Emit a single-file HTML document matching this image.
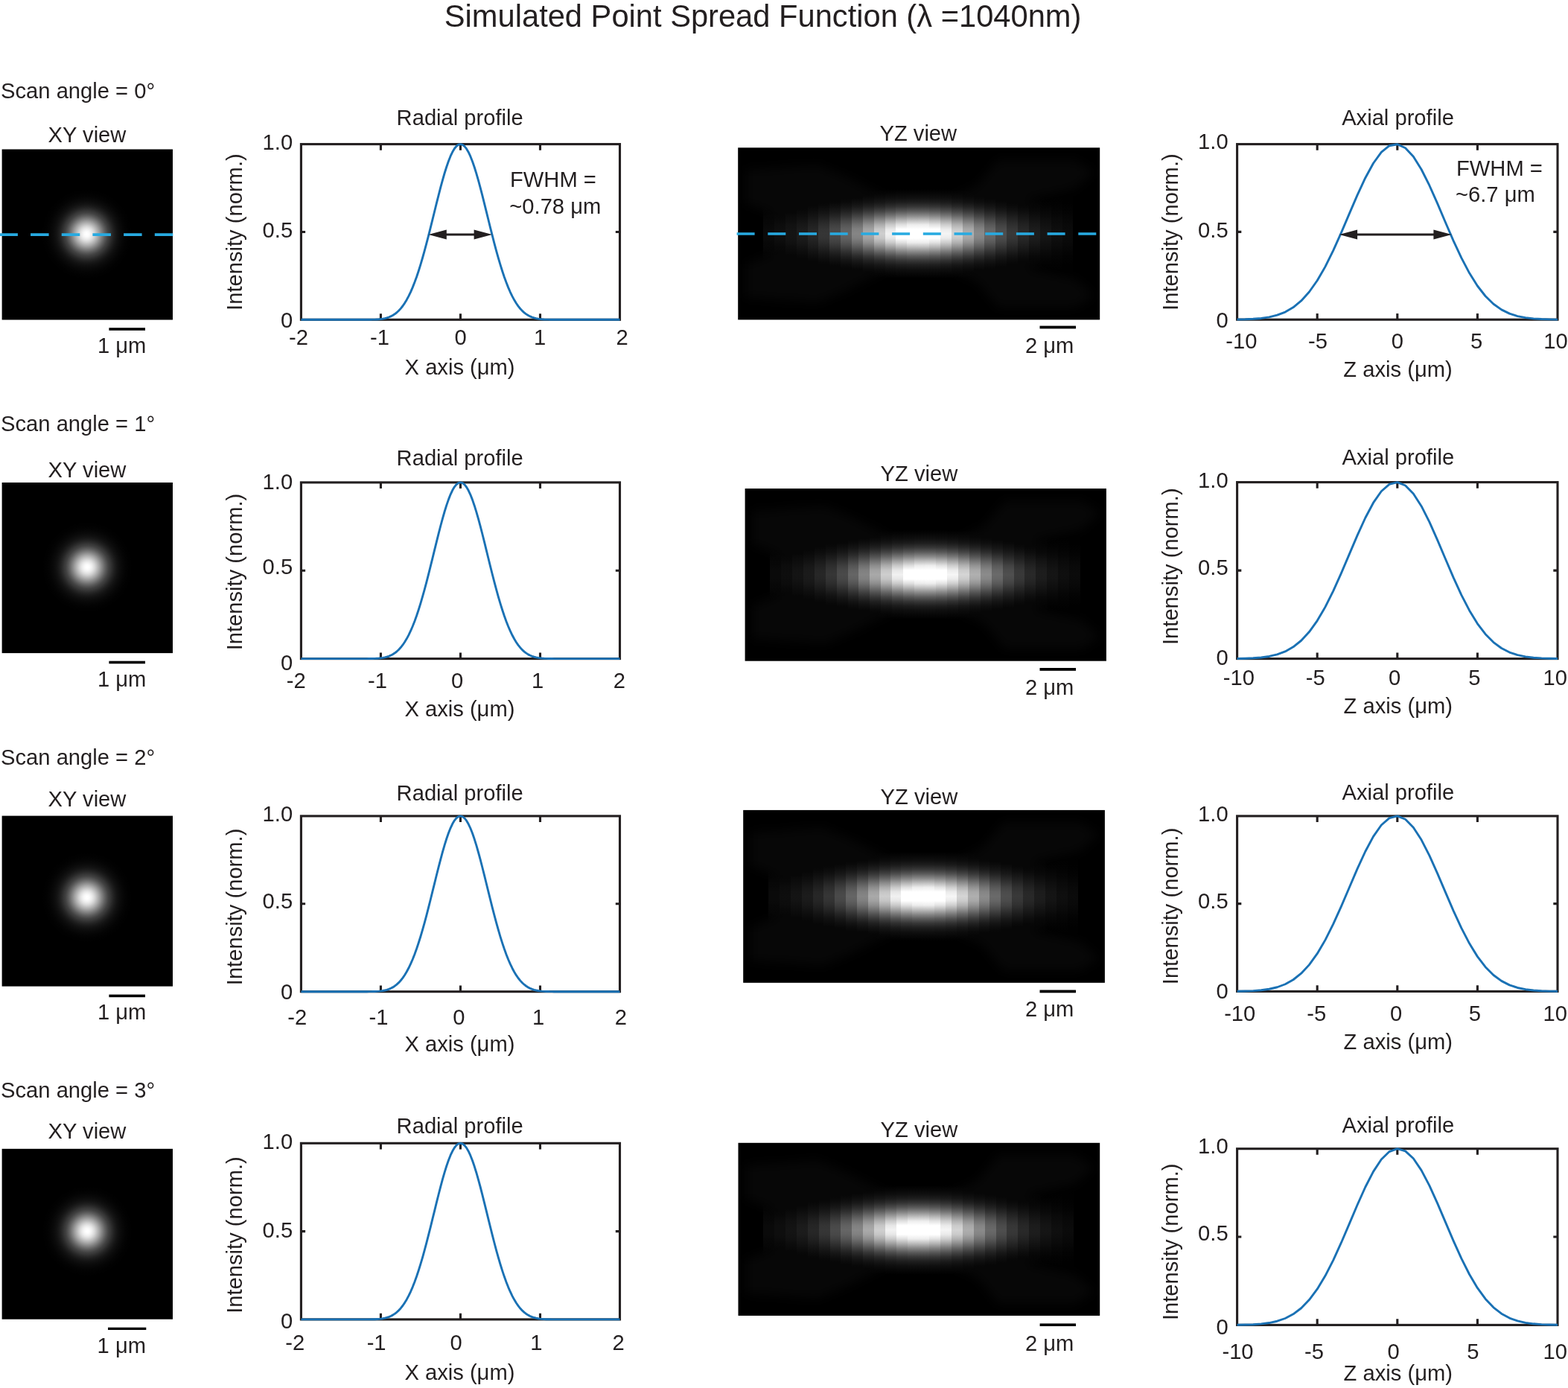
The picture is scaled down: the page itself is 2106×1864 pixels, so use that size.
<!DOCTYPE html>
<html lang="en"><head><meta charset="utf-8"><title>Simulated Point Spread Function</title>
<style>
html,body{margin:0;padding:0;background:#fff;overflow:hidden}
svg{display:block}
text{font-family:"Liberation Sans",Arial,Helvetica,sans-serif;fill:#231f20;white-space:pre}
</style></head>
<body>
<svg width="2106" height="1864" viewBox="0 0 2106 1864">
<defs>
<filter id="hb" x="-10%" y="-10%" width="120%" height="120%" color-interpolation-filters="sRGB"><feGaussianBlur stdDeviation="7"/></filter>
<radialGradient id="xy0" gradientUnits="userSpaceOnUse" cx="116.4" cy="314.4" r="60"><stop offset="0" stop-color="rgb(255,255,255)"/><stop offset="0.03" stop-color="rgb(254,254,254)"/><stop offset="0.06" stop-color="rgb(250,250,250)"/><stop offset="0.09" stop-color="rgb(243,243,243)"/><stop offset="0.12" stop-color="rgb(234,234,234)"/><stop offset="0.15" stop-color="rgb(223,223,223)"/><stop offset="0.18" stop-color="rgb(210,210,210)"/><stop offset="0.21" stop-color="rgb(195,195,195)"/><stop offset="0.24" stop-color="rgb(180,180,180)"/><stop offset="0.27" stop-color="rgb(165,165,165)"/><stop offset="0.3" stop-color="rgb(149,149,149)"/><stop offset="0.33" stop-color="rgb(133,133,133)"/><stop offset="0.36" stop-color="rgb(118,118,118)"/><stop offset="0.39" stop-color="rgb(103,103,103)"/><stop offset="0.42" stop-color="rgb(89,89,89)"/><stop offset="0.45" stop-color="rgb(77,77,77)"/><stop offset="0.48" stop-color="rgb(65,65,65)"/><stop offset="0.52" stop-color="rgb(55,55,55)"/><stop offset="0.55" stop-color="rgb(46,46,46)"/><stop offset="0.58" stop-color="rgb(38,38,38)"/><stop offset="0.61" stop-color="rgb(31,31,31)"/><stop offset="0.64" stop-color="rgb(25,25,25)"/><stop offset="0.67" stop-color="rgb(20,20,20)"/><stop offset="0.7" stop-color="rgb(16,16,16)"/><stop offset="0.73" stop-color="rgb(13,13,13)"/><stop offset="0.76" stop-color="rgb(10,10,10)"/><stop offset="0.79" stop-color="rgb(8,8,8)"/><stop offset="0.82" stop-color="rgb(6,6,6)"/><stop offset="0.85" stop-color="rgb(4,4,4)"/><stop offset="0.88" stop-color="rgb(3,3,3)"/><stop offset="0.91" stop-color="rgb(2,2,2)"/><stop offset="0.94" stop-color="rgb(1,1,1)"/><stop offset="0.97" stop-color="rgb(1,1,1)"/><stop offset="1" stop-color="rgb(0,0,0)"/></radialGradient>
<linearGradient id="z0_3" gradientUnits="userSpaceOnUse" x1="0" y1="253.8" x2="0" y2="373.8"><stop offset="0" stop-color="#000000"/><stop offset="0.05" stop-color="#000000"/><stop offset="0.1" stop-color="#010101"/><stop offset="0.15" stop-color="#010101"/><stop offset="0.2" stop-color="#020202"/><stop offset="0.25" stop-color="#030303"/><stop offset="0.3" stop-color="#050505"/><stop offset="0.35" stop-color="#070707"/><stop offset="0.4" stop-color="#080808"/><stop offset="0.45" stop-color="#0a0a0a"/><stop offset="0.5" stop-color="#0a0a0a"/><stop offset="0.55" stop-color="#0a0a0a"/><stop offset="0.6" stop-color="#080808"/><stop offset="0.65" stop-color="#070707"/><stop offset="0.7" stop-color="#050505"/><stop offset="0.75" stop-color="#030303"/><stop offset="0.8" stop-color="#020202"/><stop offset="0.85" stop-color="#010101"/><stop offset="0.9" stop-color="#010101"/><stop offset="0.95" stop-color="#000000"/><stop offset="1" stop-color="#000000"/></linearGradient>
<linearGradient id="z0_4" gradientUnits="userSpaceOnUse" x1="0" y1="253.8" x2="0" y2="373.8"><stop offset="0" stop-color="#000000"/><stop offset="0.05" stop-color="#000000"/><stop offset="0.1" stop-color="#010101"/><stop offset="0.15" stop-color="#020202"/><stop offset="0.2" stop-color="#030303"/><stop offset="0.25" stop-color="#050505"/><stop offset="0.3" stop-color="#070707"/><stop offset="0.35" stop-color="#090909"/><stop offset="0.4" stop-color="#0c0c0c"/><stop offset="0.45" stop-color="#0e0e0e"/><stop offset="0.5" stop-color="#0e0e0e"/><stop offset="0.55" stop-color="#0e0e0e"/><stop offset="0.6" stop-color="#0c0c0c"/><stop offset="0.65" stop-color="#090909"/><stop offset="0.7" stop-color="#070707"/><stop offset="0.75" stop-color="#050505"/><stop offset="0.8" stop-color="#030303"/><stop offset="0.85" stop-color="#020202"/><stop offset="0.9" stop-color="#010101"/><stop offset="0.95" stop-color="#000000"/><stop offset="1" stop-color="#000000"/></linearGradient>
<linearGradient id="z0_5" gradientUnits="userSpaceOnUse" x1="0" y1="253.8" x2="0" y2="373.8"><stop offset="0" stop-color="#000000"/><stop offset="0.05" stop-color="#010101"/><stop offset="0.1" stop-color="#010101"/><stop offset="0.15" stop-color="#020202"/><stop offset="0.2" stop-color="#040404"/><stop offset="0.25" stop-color="#060606"/><stop offset="0.3" stop-color="#0a0a0a"/><stop offset="0.35" stop-color="#0d0d0d"/><stop offset="0.4" stop-color="#111111"/><stop offset="0.45" stop-color="#131313"/><stop offset="0.5" stop-color="#141414"/><stop offset="0.55" stop-color="#131313"/><stop offset="0.6" stop-color="#111111"/><stop offset="0.65" stop-color="#0d0d0d"/><stop offset="0.7" stop-color="#0a0a0a"/><stop offset="0.75" stop-color="#060606"/><stop offset="0.8" stop-color="#040404"/><stop offset="0.85" stop-color="#020202"/><stop offset="0.9" stop-color="#010101"/><stop offset="0.95" stop-color="#010101"/><stop offset="1" stop-color="#000000"/></linearGradient>
<linearGradient id="z0_6" gradientUnits="userSpaceOnUse" x1="0" y1="253.8" x2="0" y2="373.8"><stop offset="0" stop-color="#000000"/><stop offset="0.05" stop-color="#010101"/><stop offset="0.1" stop-color="#020202"/><stop offset="0.15" stop-color="#030303"/><stop offset="0.2" stop-color="#050505"/><stop offset="0.25" stop-color="#090909"/><stop offset="0.3" stop-color="#0d0d0d"/><stop offset="0.35" stop-color="#121212"/><stop offset="0.4" stop-color="#171717"/><stop offset="0.45" stop-color="#1b1b1b"/><stop offset="0.5" stop-color="#1c1c1c"/><stop offset="0.55" stop-color="#1b1b1b"/><stop offset="0.6" stop-color="#171717"/><stop offset="0.65" stop-color="#121212"/><stop offset="0.7" stop-color="#0d0d0d"/><stop offset="0.75" stop-color="#090909"/><stop offset="0.8" stop-color="#050505"/><stop offset="0.85" stop-color="#030303"/><stop offset="0.9" stop-color="#020202"/><stop offset="0.95" stop-color="#010101"/><stop offset="1" stop-color="#000000"/></linearGradient>
<linearGradient id="z0_7" gradientUnits="userSpaceOnUse" x1="0" y1="253.8" x2="0" y2="373.8"><stop offset="0" stop-color="#000000"/><stop offset="0.05" stop-color="#010101"/><stop offset="0.1" stop-color="#020202"/><stop offset="0.15" stop-color="#040404"/><stop offset="0.2" stop-color="#080808"/><stop offset="0.25" stop-color="#0d0d0d"/><stop offset="0.3" stop-color="#131313"/><stop offset="0.35" stop-color="#1a1a1a"/><stop offset="0.4" stop-color="#202020"/><stop offset="0.45" stop-color="#252525"/><stop offset="0.5" stop-color="#272727"/><stop offset="0.55" stop-color="#252525"/><stop offset="0.6" stop-color="#202020"/><stop offset="0.65" stop-color="#1a1a1a"/><stop offset="0.7" stop-color="#131313"/><stop offset="0.75" stop-color="#0d0d0d"/><stop offset="0.8" stop-color="#080808"/><stop offset="0.85" stop-color="#040404"/><stop offset="0.9" stop-color="#020202"/><stop offset="0.95" stop-color="#010101"/><stop offset="1" stop-color="#000000"/></linearGradient>
<linearGradient id="z0_8" gradientUnits="userSpaceOnUse" x1="0" y1="253.8" x2="0" y2="373.8"><stop offset="0" stop-color="#000000"/><stop offset="0.05" stop-color="#010101"/><stop offset="0.1" stop-color="#030303"/><stop offset="0.15" stop-color="#060606"/><stop offset="0.2" stop-color="#0b0b0b"/><stop offset="0.25" stop-color="#121212"/><stop offset="0.3" stop-color="#1a1a1a"/><stop offset="0.35" stop-color="#242424"/><stop offset="0.4" stop-color="#2d2d2d"/><stop offset="0.45" stop-color="#343434"/><stop offset="0.5" stop-color="#363636"/><stop offset="0.55" stop-color="#343434"/><stop offset="0.6" stop-color="#2d2d2d"/><stop offset="0.65" stop-color="#242424"/><stop offset="0.7" stop-color="#1a1a1a"/><stop offset="0.75" stop-color="#121212"/><stop offset="0.8" stop-color="#0b0b0b"/><stop offset="0.85" stop-color="#060606"/><stop offset="0.9" stop-color="#030303"/><stop offset="0.95" stop-color="#010101"/><stop offset="1" stop-color="#000000"/></linearGradient>
<linearGradient id="z0_9" gradientUnits="userSpaceOnUse" x1="0" y1="253.8" x2="0" y2="373.8"><stop offset="0" stop-color="#000000"/><stop offset="0.05" stop-color="#020202"/><stop offset="0.1" stop-color="#040404"/><stop offset="0.15" stop-color="#080808"/><stop offset="0.2" stop-color="#0f0f0f"/><stop offset="0.25" stop-color="#181818"/><stop offset="0.3" stop-color="#242424"/><stop offset="0.35" stop-color="#323232"/><stop offset="0.4" stop-color="#3f3f3f"/><stop offset="0.45" stop-color="#484848"/><stop offset="0.5" stop-color="#4b4b4b"/><stop offset="0.55" stop-color="#484848"/><stop offset="0.6" stop-color="#3f3f3f"/><stop offset="0.65" stop-color="#323232"/><stop offset="0.7" stop-color="#242424"/><stop offset="0.75" stop-color="#181818"/><stop offset="0.8" stop-color="#0f0f0f"/><stop offset="0.85" stop-color="#080808"/><stop offset="0.9" stop-color="#040404"/><stop offset="0.95" stop-color="#020202"/><stop offset="1" stop-color="#000000"/></linearGradient>
<linearGradient id="z0_10" gradientUnits="userSpaceOnUse" x1="0" y1="253.8" x2="0" y2="373.8"><stop offset="0" stop-color="#000000"/><stop offset="0.05" stop-color="#030303"/><stop offset="0.1" stop-color="#060606"/><stop offset="0.15" stop-color="#0b0b0b"/><stop offset="0.2" stop-color="#141414"/><stop offset="0.25" stop-color="#212121"/><stop offset="0.3" stop-color="#313131"/><stop offset="0.35" stop-color="#444444"/><stop offset="0.4" stop-color="#555555"/><stop offset="0.45" stop-color="#616161"/><stop offset="0.5" stop-color="#656565"/><stop offset="0.55" stop-color="#616161"/><stop offset="0.6" stop-color="#555555"/><stop offset="0.65" stop-color="#444444"/><stop offset="0.7" stop-color="#313131"/><stop offset="0.75" stop-color="#212121"/><stop offset="0.8" stop-color="#141414"/><stop offset="0.85" stop-color="#0b0b0b"/><stop offset="0.9" stop-color="#060606"/><stop offset="0.95" stop-color="#030303"/><stop offset="1" stop-color="#000000"/></linearGradient>
<linearGradient id="z0_11" gradientUnits="userSpaceOnUse" x1="0" y1="253.8" x2="0" y2="373.8"><stop offset="0" stop-color="#000000"/><stop offset="0.05" stop-color="#030303"/><stop offset="0.1" stop-color="#070707"/><stop offset="0.15" stop-color="#0f0f0f"/><stop offset="0.2" stop-color="#1a1a1a"/><stop offset="0.25" stop-color="#2b2b2b"/><stop offset="0.3" stop-color="#414141"/><stop offset="0.35" stop-color="#595959"/><stop offset="0.4" stop-color="#6f6f6f"/><stop offset="0.45" stop-color="#808080"/><stop offset="0.5" stop-color="#858585"/><stop offset="0.55" stop-color="#808080"/><stop offset="0.6" stop-color="#6f6f6f"/><stop offset="0.65" stop-color="#595959"/><stop offset="0.7" stop-color="#414141"/><stop offset="0.75" stop-color="#2b2b2b"/><stop offset="0.8" stop-color="#1a1a1a"/><stop offset="0.85" stop-color="#0f0f0f"/><stop offset="0.9" stop-color="#070707"/><stop offset="0.95" stop-color="#030303"/><stop offset="1" stop-color="#000000"/></linearGradient>
<linearGradient id="z0_12" gradientUnits="userSpaceOnUse" x1="0" y1="253.8" x2="0" y2="373.8"><stop offset="0" stop-color="#000000"/><stop offset="0.05" stop-color="#040404"/><stop offset="0.1" stop-color="#0a0a0a"/><stop offset="0.15" stop-color="#131313"/><stop offset="0.2" stop-color="#222222"/><stop offset="0.25" stop-color="#373737"/><stop offset="0.3" stop-color="#535353"/><stop offset="0.35" stop-color="#717171"/><stop offset="0.4" stop-color="#8e8e8e"/><stop offset="0.45" stop-color="#a2a2a2"/><stop offset="0.5" stop-color="#aaaaaa"/><stop offset="0.55" stop-color="#a2a2a2"/><stop offset="0.6" stop-color="#8e8e8e"/><stop offset="0.65" stop-color="#717171"/><stop offset="0.7" stop-color="#535353"/><stop offset="0.75" stop-color="#373737"/><stop offset="0.8" stop-color="#222222"/><stop offset="0.85" stop-color="#131313"/><stop offset="0.9" stop-color="#0a0a0a"/><stop offset="0.95" stop-color="#040404"/><stop offset="1" stop-color="#000000"/></linearGradient>
<linearGradient id="z0_13" gradientUnits="userSpaceOnUse" x1="0" y1="253.8" x2="0" y2="373.8"><stop offset="0" stop-color="#000000"/><stop offset="0.05" stop-color="#050505"/><stop offset="0.1" stop-color="#0c0c0c"/><stop offset="0.15" stop-color="#171717"/><stop offset="0.2" stop-color="#292929"/><stop offset="0.25" stop-color="#434343"/><stop offset="0.3" stop-color="#656565"/><stop offset="0.35" stop-color="#8a8a8a"/><stop offset="0.4" stop-color="#adadad"/><stop offset="0.45" stop-color="#c6c6c6"/><stop offset="0.5" stop-color="#cfcfcf"/><stop offset="0.55" stop-color="#c6c6c6"/><stop offset="0.6" stop-color="#adadad"/><stop offset="0.65" stop-color="#8a8a8a"/><stop offset="0.7" stop-color="#656565"/><stop offset="0.75" stop-color="#434343"/><stop offset="0.8" stop-color="#292929"/><stop offset="0.85" stop-color="#171717"/><stop offset="0.9" stop-color="#0c0c0c"/><stop offset="0.95" stop-color="#050505"/><stop offset="1" stop-color="#000000"/></linearGradient>
<linearGradient id="z0_14" gradientUnits="userSpaceOnUse" x1="0" y1="253.8" x2="0" y2="373.8"><stop offset="0" stop-color="#000000"/><stop offset="0.05" stop-color="#060606"/><stop offset="0.1" stop-color="#0e0e0e"/><stop offset="0.15" stop-color="#1b1b1b"/><stop offset="0.2" stop-color="#303030"/><stop offset="0.25" stop-color="#4e4e4e"/><stop offset="0.3" stop-color="#757575"/><stop offset="0.35" stop-color="#a1a1a1"/><stop offset="0.4" stop-color="#cacaca"/><stop offset="0.45" stop-color="#e7e7e7"/><stop offset="0.5" stop-color="#f1f1f1"/><stop offset="0.55" stop-color="#e7e7e7"/><stop offset="0.6" stop-color="#cacaca"/><stop offset="0.65" stop-color="#a1a1a1"/><stop offset="0.7" stop-color="#757575"/><stop offset="0.75" stop-color="#4e4e4e"/><stop offset="0.8" stop-color="#303030"/><stop offset="0.85" stop-color="#1b1b1b"/><stop offset="0.9" stop-color="#0e0e0e"/><stop offset="0.95" stop-color="#060606"/><stop offset="1" stop-color="#000000"/></linearGradient>
<linearGradient id="z0_15" gradientUnits="userSpaceOnUse" x1="0" y1="253.8" x2="0" y2="373.8"><stop offset="0" stop-color="#000000"/><stop offset="0.05" stop-color="#070707"/><stop offset="0.1" stop-color="#0f0f0f"/><stop offset="0.15" stop-color="#1e1e1e"/><stop offset="0.2" stop-color="#353535"/><stop offset="0.25" stop-color="#575757"/><stop offset="0.3" stop-color="#838383"/><stop offset="0.35" stop-color="#b3b3b3"/><stop offset="0.4" stop-color="#e0e0e0"/><stop offset="0.45" stop-color="#ffffff"/><stop offset="0.5" stop-color="#ffffff"/><stop offset="0.55" stop-color="#ffffff"/><stop offset="0.6" stop-color="#e0e0e0"/><stop offset="0.65" stop-color="#b3b3b3"/><stop offset="0.7" stop-color="#838383"/><stop offset="0.75" stop-color="#575757"/><stop offset="0.8" stop-color="#353535"/><stop offset="0.85" stop-color="#1e1e1e"/><stop offset="0.9" stop-color="#0f0f0f"/><stop offset="0.95" stop-color="#070707"/><stop offset="1" stop-color="#000000"/></linearGradient>
<linearGradient id="z0_16" gradientUnits="userSpaceOnUse" x1="0" y1="253.8" x2="0" y2="373.8"><stop offset="0" stop-color="#000000"/><stop offset="0.05" stop-color="#070707"/><stop offset="0.1" stop-color="#101010"/><stop offset="0.15" stop-color="#1f1f1f"/><stop offset="0.2" stop-color="#383838"/><stop offset="0.25" stop-color="#5c5c5c"/><stop offset="0.3" stop-color="#8a8a8a"/><stop offset="0.35" stop-color="#bdbdbd"/><stop offset="0.4" stop-color="#ededed"/><stop offset="0.45" stop-color="#ffffff"/><stop offset="0.5" stop-color="#ffffff"/><stop offset="0.55" stop-color="#ffffff"/><stop offset="0.6" stop-color="#ededed"/><stop offset="0.65" stop-color="#bdbdbd"/><stop offset="0.7" stop-color="#8a8a8a"/><stop offset="0.75" stop-color="#5c5c5c"/><stop offset="0.8" stop-color="#383838"/><stop offset="0.85" stop-color="#1f1f1f"/><stop offset="0.9" stop-color="#101010"/><stop offset="0.95" stop-color="#070707"/><stop offset="1" stop-color="#000000"/></linearGradient>
<linearGradient id="z0_17" gradientUnits="userSpaceOnUse" x1="0" y1="253.8" x2="0" y2="373.8"><stop offset="0" stop-color="#000000"/><stop offset="0.05" stop-color="#070707"/><stop offset="0.1" stop-color="#101010"/><stop offset="0.15" stop-color="#1f1f1f"/><stop offset="0.2" stop-color="#383838"/><stop offset="0.25" stop-color="#5c5c5c"/><stop offset="0.3" stop-color="#8a8a8a"/><stop offset="0.35" stop-color="#bebebe"/><stop offset="0.4" stop-color="#ededed"/><stop offset="0.45" stop-color="#ffffff"/><stop offset="0.5" stop-color="#ffffff"/><stop offset="0.55" stop-color="#ffffff"/><stop offset="0.6" stop-color="#ededed"/><stop offset="0.65" stop-color="#bebebe"/><stop offset="0.7" stop-color="#8a8a8a"/><stop offset="0.75" stop-color="#5c5c5c"/><stop offset="0.8" stop-color="#383838"/><stop offset="0.85" stop-color="#1f1f1f"/><stop offset="0.9" stop-color="#101010"/><stop offset="0.95" stop-color="#070707"/><stop offset="1" stop-color="#000000"/></linearGradient>
<linearGradient id="z0_18" gradientUnits="userSpaceOnUse" x1="0" y1="253.8" x2="0" y2="373.8"><stop offset="0" stop-color="#000000"/><stop offset="0.05" stop-color="#070707"/><stop offset="0.1" stop-color="#0f0f0f"/><stop offset="0.15" stop-color="#1e1e1e"/><stop offset="0.2" stop-color="#363636"/><stop offset="0.25" stop-color="#585858"/><stop offset="0.3" stop-color="#848484"/><stop offset="0.35" stop-color="#b5b5b5"/><stop offset="0.4" stop-color="#e2e2e2"/><stop offset="0.45" stop-color="#ffffff"/><stop offset="0.5" stop-color="#ffffff"/><stop offset="0.55" stop-color="#ffffff"/><stop offset="0.6" stop-color="#e2e2e2"/><stop offset="0.65" stop-color="#b5b5b5"/><stop offset="0.7" stop-color="#848484"/><stop offset="0.75" stop-color="#585858"/><stop offset="0.8" stop-color="#363636"/><stop offset="0.85" stop-color="#1e1e1e"/><stop offset="0.9" stop-color="#0f0f0f"/><stop offset="0.95" stop-color="#070707"/><stop offset="1" stop-color="#000000"/></linearGradient>
<linearGradient id="z0_19" gradientUnits="userSpaceOnUse" x1="0" y1="253.8" x2="0" y2="373.8"><stop offset="0" stop-color="#000000"/><stop offset="0.05" stop-color="#060606"/><stop offset="0.1" stop-color="#0e0e0e"/><stop offset="0.15" stop-color="#1b1b1b"/><stop offset="0.2" stop-color="#313131"/><stop offset="0.25" stop-color="#505050"/><stop offset="0.3" stop-color="#777777"/><stop offset="0.35" stop-color="#a4a4a4"/><stop offset="0.4" stop-color="#cdcdcd"/><stop offset="0.45" stop-color="#ebebeb"/><stop offset="0.5" stop-color="#f5f5f5"/><stop offset="0.55" stop-color="#ebebeb"/><stop offset="0.6" stop-color="#cdcdcd"/><stop offset="0.65" stop-color="#a4a4a4"/><stop offset="0.7" stop-color="#777777"/><stop offset="0.75" stop-color="#505050"/><stop offset="0.8" stop-color="#313131"/><stop offset="0.85" stop-color="#1b1b1b"/><stop offset="0.9" stop-color="#0e0e0e"/><stop offset="0.95" stop-color="#060606"/><stop offset="1" stop-color="#000000"/></linearGradient>
<linearGradient id="z0_20" gradientUnits="userSpaceOnUse" x1="0" y1="253.8" x2="0" y2="373.8"><stop offset="0" stop-color="#000000"/><stop offset="0.05" stop-color="#060606"/><stop offset="0.1" stop-color="#0c0c0c"/><stop offset="0.15" stop-color="#171717"/><stop offset="0.2" stop-color="#2a2a2a"/><stop offset="0.25" stop-color="#454545"/><stop offset="0.3" stop-color="#676767"/><stop offset="0.35" stop-color="#8d8d8d"/><stop offset="0.4" stop-color="#b1b1b1"/><stop offset="0.45" stop-color="#cacaca"/><stop offset="0.5" stop-color="#d4d4d4"/><stop offset="0.55" stop-color="#cacaca"/><stop offset="0.6" stop-color="#b1b1b1"/><stop offset="0.65" stop-color="#8d8d8d"/><stop offset="0.7" stop-color="#676767"/><stop offset="0.75" stop-color="#454545"/><stop offset="0.8" stop-color="#2a2a2a"/><stop offset="0.85" stop-color="#171717"/><stop offset="0.9" stop-color="#0c0c0c"/><stop offset="0.95" stop-color="#060606"/><stop offset="1" stop-color="#000000"/></linearGradient>
<linearGradient id="z0_21" gradientUnits="userSpaceOnUse" x1="0" y1="253.8" x2="0" y2="373.8"><stop offset="0" stop-color="#000000"/><stop offset="0.05" stop-color="#050505"/><stop offset="0.1" stop-color="#0a0a0a"/><stop offset="0.15" stop-color="#131313"/><stop offset="0.2" stop-color="#232323"/><stop offset="0.25" stop-color="#393939"/><stop offset="0.3" stop-color="#555555"/><stop offset="0.35" stop-color="#747474"/><stop offset="0.4" stop-color="#929292"/><stop offset="0.45" stop-color="#a7a7a7"/><stop offset="0.5" stop-color="#afafaf"/><stop offset="0.55" stop-color="#a7a7a7"/><stop offset="0.6" stop-color="#929292"/><stop offset="0.65" stop-color="#747474"/><stop offset="0.7" stop-color="#555555"/><stop offset="0.75" stop-color="#393939"/><stop offset="0.8" stop-color="#232323"/><stop offset="0.85" stop-color="#131313"/><stop offset="0.9" stop-color="#0a0a0a"/><stop offset="0.95" stop-color="#050505"/><stop offset="1" stop-color="#000000"/></linearGradient>
<linearGradient id="z0_22" gradientUnits="userSpaceOnUse" x1="0" y1="253.8" x2="0" y2="373.8"><stop offset="0" stop-color="#000000"/><stop offset="0.05" stop-color="#040404"/><stop offset="0.1" stop-color="#080808"/><stop offset="0.15" stop-color="#0f0f0f"/><stop offset="0.2" stop-color="#1b1b1b"/><stop offset="0.25" stop-color="#2d2d2d"/><stop offset="0.3" stop-color="#434343"/><stop offset="0.35" stop-color="#5c5c5c"/><stop offset="0.4" stop-color="#737373"/><stop offset="0.45" stop-color="#848484"/><stop offset="0.5" stop-color="#8a8a8a"/><stop offset="0.55" stop-color="#848484"/><stop offset="0.6" stop-color="#737373"/><stop offset="0.65" stop-color="#5c5c5c"/><stop offset="0.7" stop-color="#434343"/><stop offset="0.75" stop-color="#2d2d2d"/><stop offset="0.8" stop-color="#1b1b1b"/><stop offset="0.85" stop-color="#0f0f0f"/><stop offset="0.9" stop-color="#080808"/><stop offset="0.95" stop-color="#040404"/><stop offset="1" stop-color="#000000"/></linearGradient>
<linearGradient id="z0_23" gradientUnits="userSpaceOnUse" x1="0" y1="253.8" x2="0" y2="373.8"><stop offset="0" stop-color="#000000"/><stop offset="0.05" stop-color="#030303"/><stop offset="0.1" stop-color="#060606"/><stop offset="0.15" stop-color="#0c0c0c"/><stop offset="0.2" stop-color="#151515"/><stop offset="0.25" stop-color="#222222"/><stop offset="0.3" stop-color="#333333"/><stop offset="0.35" stop-color="#464646"/><stop offset="0.4" stop-color="#585858"/><stop offset="0.45" stop-color="#656565"/><stop offset="0.5" stop-color="#696969"/><stop offset="0.55" stop-color="#656565"/><stop offset="0.6" stop-color="#585858"/><stop offset="0.65" stop-color="#464646"/><stop offset="0.7" stop-color="#333333"/><stop offset="0.75" stop-color="#222222"/><stop offset="0.8" stop-color="#151515"/><stop offset="0.85" stop-color="#0c0c0c"/><stop offset="0.9" stop-color="#060606"/><stop offset="0.95" stop-color="#030303"/><stop offset="1" stop-color="#000000"/></linearGradient>
<linearGradient id="z0_24" gradientUnits="userSpaceOnUse" x1="0" y1="253.8" x2="0" y2="373.8"><stop offset="0" stop-color="#000000"/><stop offset="0.05" stop-color="#020202"/><stop offset="0.1" stop-color="#040404"/><stop offset="0.15" stop-color="#090909"/><stop offset="0.2" stop-color="#0f0f0f"/><stop offset="0.25" stop-color="#191919"/><stop offset="0.3" stop-color="#262626"/><stop offset="0.35" stop-color="#343434"/><stop offset="0.4" stop-color="#414141"/><stop offset="0.45" stop-color="#4b4b4b"/><stop offset="0.5" stop-color="#4e4e4e"/><stop offset="0.55" stop-color="#4b4b4b"/><stop offset="0.6" stop-color="#414141"/><stop offset="0.65" stop-color="#343434"/><stop offset="0.7" stop-color="#262626"/><stop offset="0.75" stop-color="#191919"/><stop offset="0.8" stop-color="#0f0f0f"/><stop offset="0.85" stop-color="#090909"/><stop offset="0.9" stop-color="#040404"/><stop offset="0.95" stop-color="#020202"/><stop offset="1" stop-color="#000000"/></linearGradient>
<linearGradient id="z0_25" gradientUnits="userSpaceOnUse" x1="0" y1="253.8" x2="0" y2="373.8"><stop offset="0" stop-color="#000000"/><stop offset="0.05" stop-color="#010101"/><stop offset="0.1" stop-color="#030303"/><stop offset="0.15" stop-color="#060606"/><stop offset="0.2" stop-color="#0b0b0b"/><stop offset="0.25" stop-color="#121212"/><stop offset="0.3" stop-color="#1c1c1c"/><stop offset="0.35" stop-color="#262626"/><stop offset="0.4" stop-color="#2f2f2f"/><stop offset="0.45" stop-color="#363636"/><stop offset="0.5" stop-color="#393939"/><stop offset="0.55" stop-color="#363636"/><stop offset="0.6" stop-color="#2f2f2f"/><stop offset="0.65" stop-color="#262626"/><stop offset="0.7" stop-color="#1c1c1c"/><stop offset="0.75" stop-color="#121212"/><stop offset="0.8" stop-color="#0b0b0b"/><stop offset="0.85" stop-color="#060606"/><stop offset="0.9" stop-color="#030303"/><stop offset="0.95" stop-color="#010101"/><stop offset="1" stop-color="#000000"/></linearGradient>
<linearGradient id="z0_26" gradientUnits="userSpaceOnUse" x1="0" y1="253.8" x2="0" y2="373.8"><stop offset="0" stop-color="#000000"/><stop offset="0.05" stop-color="#010101"/><stop offset="0.1" stop-color="#020202"/><stop offset="0.15" stop-color="#040404"/><stop offset="0.2" stop-color="#080808"/><stop offset="0.25" stop-color="#0d0d0d"/><stop offset="0.3" stop-color="#141414"/><stop offset="0.35" stop-color="#1b1b1b"/><stop offset="0.4" stop-color="#222222"/><stop offset="0.45" stop-color="#272727"/><stop offset="0.5" stop-color="#292929"/><stop offset="0.55" stop-color="#272727"/><stop offset="0.6" stop-color="#222222"/><stop offset="0.65" stop-color="#1b1b1b"/><stop offset="0.7" stop-color="#141414"/><stop offset="0.75" stop-color="#0d0d0d"/><stop offset="0.8" stop-color="#080808"/><stop offset="0.85" stop-color="#040404"/><stop offset="0.9" stop-color="#020202"/><stop offset="0.95" stop-color="#010101"/><stop offset="1" stop-color="#000000"/></linearGradient>
<linearGradient id="z0_27" gradientUnits="userSpaceOnUse" x1="0" y1="253.8" x2="0" y2="373.8"><stop offset="0" stop-color="#000000"/><stop offset="0.05" stop-color="#010101"/><stop offset="0.1" stop-color="#020202"/><stop offset="0.15" stop-color="#030303"/><stop offset="0.2" stop-color="#060606"/><stop offset="0.25" stop-color="#090909"/><stop offset="0.3" stop-color="#0e0e0e"/><stop offset="0.35" stop-color="#131313"/><stop offset="0.4" stop-color="#181818"/><stop offset="0.45" stop-color="#1c1c1c"/><stop offset="0.5" stop-color="#1d1d1d"/><stop offset="0.55" stop-color="#1c1c1c"/><stop offset="0.6" stop-color="#181818"/><stop offset="0.65" stop-color="#131313"/><stop offset="0.7" stop-color="#0e0e0e"/><stop offset="0.75" stop-color="#090909"/><stop offset="0.8" stop-color="#060606"/><stop offset="0.85" stop-color="#030303"/><stop offset="0.9" stop-color="#020202"/><stop offset="0.95" stop-color="#010101"/><stop offset="1" stop-color="#000000"/></linearGradient>
<linearGradient id="z0_28" gradientUnits="userSpaceOnUse" x1="0" y1="253.8" x2="0" y2="373.8"><stop offset="0" stop-color="#000000"/><stop offset="0.05" stop-color="#010101"/><stop offset="0.1" stop-color="#010101"/><stop offset="0.15" stop-color="#020202"/><stop offset="0.2" stop-color="#040404"/><stop offset="0.25" stop-color="#070707"/><stop offset="0.3" stop-color="#0a0a0a"/><stop offset="0.35" stop-color="#0e0e0e"/><stop offset="0.4" stop-color="#111111"/><stop offset="0.45" stop-color="#141414"/><stop offset="0.5" stop-color="#151515"/><stop offset="0.55" stop-color="#141414"/><stop offset="0.6" stop-color="#111111"/><stop offset="0.65" stop-color="#0e0e0e"/><stop offset="0.7" stop-color="#0a0a0a"/><stop offset="0.75" stop-color="#070707"/><stop offset="0.8" stop-color="#040404"/><stop offset="0.85" stop-color="#020202"/><stop offset="0.9" stop-color="#010101"/><stop offset="0.95" stop-color="#010101"/><stop offset="1" stop-color="#000000"/></linearGradient>
<linearGradient id="z0_29" gradientUnits="userSpaceOnUse" x1="0" y1="253.8" x2="0" y2="373.8"><stop offset="0" stop-color="#000000"/><stop offset="0.05" stop-color="#000000"/><stop offset="0.1" stop-color="#010101"/><stop offset="0.15" stop-color="#020202"/><stop offset="0.2" stop-color="#030303"/><stop offset="0.25" stop-color="#050505"/><stop offset="0.3" stop-color="#070707"/><stop offset="0.35" stop-color="#0a0a0a"/><stop offset="0.4" stop-color="#0c0c0c"/><stop offset="0.45" stop-color="#0e0e0e"/><stop offset="0.5" stop-color="#0f0f0f"/><stop offset="0.55" stop-color="#0e0e0e"/><stop offset="0.6" stop-color="#0c0c0c"/><stop offset="0.65" stop-color="#0a0a0a"/><stop offset="0.7" stop-color="#070707"/><stop offset="0.75" stop-color="#050505"/><stop offset="0.8" stop-color="#030303"/><stop offset="0.85" stop-color="#020202"/><stop offset="0.9" stop-color="#010101"/><stop offset="0.95" stop-color="#000000"/><stop offset="1" stop-color="#000000"/></linearGradient>
<linearGradient id="z0_30" gradientUnits="userSpaceOnUse" x1="0" y1="253.8" x2="0" y2="373.8"><stop offset="0" stop-color="#000000"/><stop offset="0.05" stop-color="#000000"/><stop offset="0.1" stop-color="#010101"/><stop offset="0.15" stop-color="#010101"/><stop offset="0.2" stop-color="#020202"/><stop offset="0.25" stop-color="#030303"/><stop offset="0.3" stop-color="#050505"/><stop offset="0.35" stop-color="#070707"/><stop offset="0.4" stop-color="#090909"/><stop offset="0.45" stop-color="#0a0a0a"/><stop offset="0.5" stop-color="#0b0b0b"/><stop offset="0.55" stop-color="#0a0a0a"/><stop offset="0.6" stop-color="#090909"/><stop offset="0.65" stop-color="#070707"/><stop offset="0.7" stop-color="#050505"/><stop offset="0.75" stop-color="#030303"/><stop offset="0.8" stop-color="#020202"/><stop offset="0.85" stop-color="#010101"/><stop offset="0.9" stop-color="#010101"/><stop offset="0.95" stop-color="#000000"/><stop offset="1" stop-color="#000000"/></linearGradient>
<radialGradient id="xy1" gradientUnits="userSpaceOnUse" cx="117.2" cy="761.6" r="60"><stop offset="0" stop-color="rgb(255,255,255)"/><stop offset="0.03" stop-color="rgb(254,254,254)"/><stop offset="0.06" stop-color="rgb(250,250,250)"/><stop offset="0.09" stop-color="rgb(243,243,243)"/><stop offset="0.12" stop-color="rgb(234,234,234)"/><stop offset="0.15" stop-color="rgb(223,223,223)"/><stop offset="0.18" stop-color="rgb(210,210,210)"/><stop offset="0.21" stop-color="rgb(195,195,195)"/><stop offset="0.24" stop-color="rgb(180,180,180)"/><stop offset="0.27" stop-color="rgb(165,165,165)"/><stop offset="0.3" stop-color="rgb(149,149,149)"/><stop offset="0.33" stop-color="rgb(133,133,133)"/><stop offset="0.36" stop-color="rgb(118,118,118)"/><stop offset="0.39" stop-color="rgb(103,103,103)"/><stop offset="0.42" stop-color="rgb(89,89,89)"/><stop offset="0.45" stop-color="rgb(77,77,77)"/><stop offset="0.48" stop-color="rgb(65,65,65)"/><stop offset="0.52" stop-color="rgb(55,55,55)"/><stop offset="0.55" stop-color="rgb(46,46,46)"/><stop offset="0.58" stop-color="rgb(38,38,38)"/><stop offset="0.61" stop-color="rgb(31,31,31)"/><stop offset="0.64" stop-color="rgb(25,25,25)"/><stop offset="0.67" stop-color="rgb(20,20,20)"/><stop offset="0.7" stop-color="rgb(16,16,16)"/><stop offset="0.73" stop-color="rgb(13,13,13)"/><stop offset="0.76" stop-color="rgb(10,10,10)"/><stop offset="0.79" stop-color="rgb(8,8,8)"/><stop offset="0.82" stop-color="rgb(6,6,6)"/><stop offset="0.85" stop-color="rgb(4,4,4)"/><stop offset="0.88" stop-color="rgb(3,3,3)"/><stop offset="0.91" stop-color="rgb(2,2,2)"/><stop offset="0.94" stop-color="rgb(1,1,1)"/><stop offset="0.97" stop-color="rgb(1,1,1)"/><stop offset="1" stop-color="rgb(0,0,0)"/></radialGradient>
<linearGradient id="z1_3" gradientUnits="userSpaceOnUse" x1="0" y1="711.6" x2="0" y2="831.6"><stop offset="0" stop-color="#000000"/><stop offset="0.05" stop-color="#000000"/><stop offset="0.1" stop-color="#010101"/><stop offset="0.15" stop-color="#010101"/><stop offset="0.2" stop-color="#020202"/><stop offset="0.25" stop-color="#030303"/><stop offset="0.3" stop-color="#050505"/><stop offset="0.35" stop-color="#070707"/><stop offset="0.4" stop-color="#080808"/><stop offset="0.45" stop-color="#0a0a0a"/><stop offset="0.5" stop-color="#0a0a0a"/><stop offset="0.55" stop-color="#0a0a0a"/><stop offset="0.6" stop-color="#080808"/><stop offset="0.65" stop-color="#070707"/><stop offset="0.7" stop-color="#050505"/><stop offset="0.75" stop-color="#030303"/><stop offset="0.8" stop-color="#020202"/><stop offset="0.85" stop-color="#010101"/><stop offset="0.9" stop-color="#010101"/><stop offset="0.95" stop-color="#000000"/><stop offset="1" stop-color="#000000"/></linearGradient>
<linearGradient id="z1_4" gradientUnits="userSpaceOnUse" x1="0" y1="711.6" x2="0" y2="831.6"><stop offset="0" stop-color="#000000"/><stop offset="0.05" stop-color="#000000"/><stop offset="0.1" stop-color="#010101"/><stop offset="0.15" stop-color="#020202"/><stop offset="0.2" stop-color="#030303"/><stop offset="0.25" stop-color="#050505"/><stop offset="0.3" stop-color="#070707"/><stop offset="0.35" stop-color="#090909"/><stop offset="0.4" stop-color="#0c0c0c"/><stop offset="0.45" stop-color="#0d0d0d"/><stop offset="0.5" stop-color="#0e0e0e"/><stop offset="0.55" stop-color="#0d0d0d"/><stop offset="0.6" stop-color="#0c0c0c"/><stop offset="0.65" stop-color="#090909"/><stop offset="0.7" stop-color="#070707"/><stop offset="0.75" stop-color="#050505"/><stop offset="0.8" stop-color="#030303"/><stop offset="0.85" stop-color="#020202"/><stop offset="0.9" stop-color="#010101"/><stop offset="0.95" stop-color="#000000"/><stop offset="1" stop-color="#000000"/></linearGradient>
<linearGradient id="z1_5" gradientUnits="userSpaceOnUse" x1="0" y1="711.6" x2="0" y2="831.6"><stop offset="0" stop-color="#000000"/><stop offset="0.05" stop-color="#010101"/><stop offset="0.1" stop-color="#010101"/><stop offset="0.15" stop-color="#020202"/><stop offset="0.2" stop-color="#040404"/><stop offset="0.25" stop-color="#060606"/><stop offset="0.3" stop-color="#0a0a0a"/><stop offset="0.35" stop-color="#0d0d0d"/><stop offset="0.4" stop-color="#101010"/><stop offset="0.45" stop-color="#131313"/><stop offset="0.5" stop-color="#141414"/><stop offset="0.55" stop-color="#131313"/><stop offset="0.6" stop-color="#101010"/><stop offset="0.65" stop-color="#0d0d0d"/><stop offset="0.7" stop-color="#0a0a0a"/><stop offset="0.75" stop-color="#060606"/><stop offset="0.8" stop-color="#040404"/><stop offset="0.85" stop-color="#020202"/><stop offset="0.9" stop-color="#010101"/><stop offset="0.95" stop-color="#010101"/><stop offset="1" stop-color="#000000"/></linearGradient>
<linearGradient id="z1_6" gradientUnits="userSpaceOnUse" x1="0" y1="711.6" x2="0" y2="831.6"><stop offset="0" stop-color="#000000"/><stop offset="0.05" stop-color="#010101"/><stop offset="0.1" stop-color="#020202"/><stop offset="0.15" stop-color="#030303"/><stop offset="0.2" stop-color="#050505"/><stop offset="0.25" stop-color="#090909"/><stop offset="0.3" stop-color="#0d0d0d"/><stop offset="0.35" stop-color="#121212"/><stop offset="0.4" stop-color="#171717"/><stop offset="0.45" stop-color="#1a1a1a"/><stop offset="0.5" stop-color="#1b1b1b"/><stop offset="0.55" stop-color="#1a1a1a"/><stop offset="0.6" stop-color="#171717"/><stop offset="0.65" stop-color="#121212"/><stop offset="0.7" stop-color="#0d0d0d"/><stop offset="0.75" stop-color="#090909"/><stop offset="0.8" stop-color="#050505"/><stop offset="0.85" stop-color="#030303"/><stop offset="0.9" stop-color="#020202"/><stop offset="0.95" stop-color="#010101"/><stop offset="1" stop-color="#000000"/></linearGradient>
<linearGradient id="z1_7" gradientUnits="userSpaceOnUse" x1="0" y1="711.6" x2="0" y2="831.6"><stop offset="0" stop-color="#000000"/><stop offset="0.05" stop-color="#010101"/><stop offset="0.1" stop-color="#020202"/><stop offset="0.15" stop-color="#040404"/><stop offset="0.2" stop-color="#080808"/><stop offset="0.25" stop-color="#0d0d0d"/><stop offset="0.3" stop-color="#131313"/><stop offset="0.35" stop-color="#1a1a1a"/><stop offset="0.4" stop-color="#202020"/><stop offset="0.45" stop-color="#252525"/><stop offset="0.5" stop-color="#272727"/><stop offset="0.55" stop-color="#252525"/><stop offset="0.6" stop-color="#202020"/><stop offset="0.65" stop-color="#1a1a1a"/><stop offset="0.7" stop-color="#131313"/><stop offset="0.75" stop-color="#0d0d0d"/><stop offset="0.8" stop-color="#080808"/><stop offset="0.85" stop-color="#040404"/><stop offset="0.9" stop-color="#020202"/><stop offset="0.95" stop-color="#010101"/><stop offset="1" stop-color="#000000"/></linearGradient>
<linearGradient id="z1_8" gradientUnits="userSpaceOnUse" x1="0" y1="711.6" x2="0" y2="831.6"><stop offset="0" stop-color="#000000"/><stop offset="0.05" stop-color="#010101"/><stop offset="0.1" stop-color="#030303"/><stop offset="0.15" stop-color="#060606"/><stop offset="0.2" stop-color="#0b0b0b"/><stop offset="0.25" stop-color="#111111"/><stop offset="0.3" stop-color="#1a1a1a"/><stop offset="0.35" stop-color="#242424"/><stop offset="0.4" stop-color="#2d2d2d"/><stop offset="0.45" stop-color="#333333"/><stop offset="0.5" stop-color="#363636"/><stop offset="0.55" stop-color="#333333"/><stop offset="0.6" stop-color="#2d2d2d"/><stop offset="0.65" stop-color="#242424"/><stop offset="0.7" stop-color="#1a1a1a"/><stop offset="0.75" stop-color="#111111"/><stop offset="0.8" stop-color="#0b0b0b"/><stop offset="0.85" stop-color="#060606"/><stop offset="0.9" stop-color="#030303"/><stop offset="0.95" stop-color="#010101"/><stop offset="1" stop-color="#000000"/></linearGradient>
<linearGradient id="z1_9" gradientUnits="userSpaceOnUse" x1="0" y1="711.6" x2="0" y2="831.6"><stop offset="0" stop-color="#000000"/><stop offset="0.05" stop-color="#020202"/><stop offset="0.1" stop-color="#040404"/><stop offset="0.15" stop-color="#080808"/><stop offset="0.2" stop-color="#0f0f0f"/><stop offset="0.25" stop-color="#181818"/><stop offset="0.3" stop-color="#242424"/><stop offset="0.35" stop-color="#313131"/><stop offset="0.4" stop-color="#3e3e3e"/><stop offset="0.45" stop-color="#474747"/><stop offset="0.5" stop-color="#4a4a4a"/><stop offset="0.55" stop-color="#474747"/><stop offset="0.6" stop-color="#3e3e3e"/><stop offset="0.65" stop-color="#313131"/><stop offset="0.7" stop-color="#242424"/><stop offset="0.75" stop-color="#181818"/><stop offset="0.8" stop-color="#0f0f0f"/><stop offset="0.85" stop-color="#080808"/><stop offset="0.9" stop-color="#040404"/><stop offset="0.95" stop-color="#020202"/><stop offset="1" stop-color="#000000"/></linearGradient>
<linearGradient id="z1_10" gradientUnits="userSpaceOnUse" x1="0" y1="711.6" x2="0" y2="831.6"><stop offset="0" stop-color="#000000"/><stop offset="0.05" stop-color="#030303"/><stop offset="0.1" stop-color="#060606"/><stop offset="0.15" stop-color="#0b0b0b"/><stop offset="0.2" stop-color="#141414"/><stop offset="0.25" stop-color="#212121"/><stop offset="0.3" stop-color="#313131"/><stop offset="0.35" stop-color="#434343"/><stop offset="0.4" stop-color="#545454"/><stop offset="0.45" stop-color="#606060"/><stop offset="0.5" stop-color="#656565"/><stop offset="0.55" stop-color="#606060"/><stop offset="0.6" stop-color="#545454"/><stop offset="0.65" stop-color="#434343"/><stop offset="0.7" stop-color="#313131"/><stop offset="0.75" stop-color="#212121"/><stop offset="0.8" stop-color="#141414"/><stop offset="0.85" stop-color="#0b0b0b"/><stop offset="0.9" stop-color="#060606"/><stop offset="0.95" stop-color="#030303"/><stop offset="1" stop-color="#000000"/></linearGradient>
<linearGradient id="z1_11" gradientUnits="userSpaceOnUse" x1="0" y1="711.6" x2="0" y2="831.6"><stop offset="0" stop-color="#000000"/><stop offset="0.05" stop-color="#030303"/><stop offset="0.1" stop-color="#070707"/><stop offset="0.15" stop-color="#0f0f0f"/><stop offset="0.2" stop-color="#1a1a1a"/><stop offset="0.25" stop-color="#2b2b2b"/><stop offset="0.3" stop-color="#404040"/><stop offset="0.35" stop-color="#585858"/><stop offset="0.4" stop-color="#6f6f6f"/><stop offset="0.45" stop-color="#7f7f7f"/><stop offset="0.5" stop-color="#848484"/><stop offset="0.55" stop-color="#7f7f7f"/><stop offset="0.6" stop-color="#6f6f6f"/><stop offset="0.65" stop-color="#585858"/><stop offset="0.7" stop-color="#404040"/><stop offset="0.75" stop-color="#2b2b2b"/><stop offset="0.8" stop-color="#1a1a1a"/><stop offset="0.85" stop-color="#0f0f0f"/><stop offset="0.9" stop-color="#070707"/><stop offset="0.95" stop-color="#030303"/><stop offset="1" stop-color="#000000"/></linearGradient>
<linearGradient id="z1_12" gradientUnits="userSpaceOnUse" x1="0" y1="711.6" x2="0" y2="831.6"><stop offset="0" stop-color="#000000"/><stop offset="0.05" stop-color="#040404"/><stop offset="0.1" stop-color="#090909"/><stop offset="0.15" stop-color="#131313"/><stop offset="0.2" stop-color="#212121"/><stop offset="0.25" stop-color="#373737"/><stop offset="0.3" stop-color="#525252"/><stop offset="0.35" stop-color="#707070"/><stop offset="0.4" stop-color="#8d8d8d"/><stop offset="0.45" stop-color="#a1a1a1"/><stop offset="0.5" stop-color="#a9a9a9"/><stop offset="0.55" stop-color="#a1a1a1"/><stop offset="0.6" stop-color="#8d8d8d"/><stop offset="0.65" stop-color="#707070"/><stop offset="0.7" stop-color="#525252"/><stop offset="0.75" stop-color="#373737"/><stop offset="0.8" stop-color="#212121"/><stop offset="0.85" stop-color="#131313"/><stop offset="0.9" stop-color="#090909"/><stop offset="0.95" stop-color="#040404"/><stop offset="1" stop-color="#000000"/></linearGradient>
<linearGradient id="z1_13" gradientUnits="userSpaceOnUse" x1="0" y1="711.6" x2="0" y2="831.6"><stop offset="0" stop-color="#000000"/><stop offset="0.05" stop-color="#050505"/><stop offset="0.1" stop-color="#0c0c0c"/><stop offset="0.15" stop-color="#171717"/><stop offset="0.2" stop-color="#292929"/><stop offset="0.25" stop-color="#434343"/><stop offset="0.3" stop-color="#646464"/><stop offset="0.35" stop-color="#898989"/><stop offset="0.4" stop-color="#acacac"/><stop offset="0.45" stop-color="#c5c5c5"/><stop offset="0.5" stop-color="#cecece"/><stop offset="0.55" stop-color="#c5c5c5"/><stop offset="0.6" stop-color="#acacac"/><stop offset="0.65" stop-color="#898989"/><stop offset="0.7" stop-color="#646464"/><stop offset="0.75" stop-color="#434343"/><stop offset="0.8" stop-color="#292929"/><stop offset="0.85" stop-color="#171717"/><stop offset="0.9" stop-color="#0c0c0c"/><stop offset="0.95" stop-color="#050505"/><stop offset="1" stop-color="#000000"/></linearGradient>
<linearGradient id="z1_14" gradientUnits="userSpaceOnUse" x1="0" y1="711.6" x2="0" y2="831.6"><stop offset="0" stop-color="#000000"/><stop offset="0.05" stop-color="#060606"/><stop offset="0.1" stop-color="#0e0e0e"/><stop offset="0.15" stop-color="#1b1b1b"/><stop offset="0.2" stop-color="#303030"/><stop offset="0.25" stop-color="#4e4e4e"/><stop offset="0.3" stop-color="#757575"/><stop offset="0.35" stop-color="#a0a0a0"/><stop offset="0.4" stop-color="#c9c9c9"/><stop offset="0.45" stop-color="#e6e6e6"/><stop offset="0.5" stop-color="#f1f1f1"/><stop offset="0.55" stop-color="#e6e6e6"/><stop offset="0.6" stop-color="#c9c9c9"/><stop offset="0.65" stop-color="#a0a0a0"/><stop offset="0.7" stop-color="#757575"/><stop offset="0.75" stop-color="#4e4e4e"/><stop offset="0.8" stop-color="#303030"/><stop offset="0.85" stop-color="#1b1b1b"/><stop offset="0.9" stop-color="#0e0e0e"/><stop offset="0.95" stop-color="#060606"/><stop offset="1" stop-color="#000000"/></linearGradient>
<linearGradient id="z1_15" gradientUnits="userSpaceOnUse" x1="0" y1="711.6" x2="0" y2="831.6"><stop offset="0" stop-color="#000000"/><stop offset="0.05" stop-color="#070707"/><stop offset="0.1" stop-color="#0f0f0f"/><stop offset="0.15" stop-color="#1d1d1d"/><stop offset="0.2" stop-color="#353535"/><stop offset="0.25" stop-color="#575757"/><stop offset="0.3" stop-color="#828282"/><stop offset="0.35" stop-color="#b2b2b2"/><stop offset="0.4" stop-color="#dfdfdf"/><stop offset="0.45" stop-color="#ffffff"/><stop offset="0.5" stop-color="#ffffff"/><stop offset="0.55" stop-color="#ffffff"/><stop offset="0.6" stop-color="#dfdfdf"/><stop offset="0.65" stop-color="#b2b2b2"/><stop offset="0.7" stop-color="#828282"/><stop offset="0.75" stop-color="#575757"/><stop offset="0.8" stop-color="#353535"/><stop offset="0.85" stop-color="#1d1d1d"/><stop offset="0.9" stop-color="#0f0f0f"/><stop offset="0.95" stop-color="#070707"/><stop offset="1" stop-color="#000000"/></linearGradient>
<linearGradient id="z1_16" gradientUnits="userSpaceOnUse" x1="0" y1="711.6" x2="0" y2="831.6"><stop offset="0" stop-color="#000000"/><stop offset="0.05" stop-color="#070707"/><stop offset="0.1" stop-color="#101010"/><stop offset="0.15" stop-color="#1f1f1f"/><stop offset="0.2" stop-color="#383838"/><stop offset="0.25" stop-color="#5c5c5c"/><stop offset="0.3" stop-color="#8a8a8a"/><stop offset="0.35" stop-color="#bdbdbd"/><stop offset="0.4" stop-color="#ececec"/><stop offset="0.45" stop-color="#ffffff"/><stop offset="0.5" stop-color="#ffffff"/><stop offset="0.55" stop-color="#ffffff"/><stop offset="0.6" stop-color="#ececec"/><stop offset="0.65" stop-color="#bdbdbd"/><stop offset="0.7" stop-color="#8a8a8a"/><stop offset="0.75" stop-color="#5c5c5c"/><stop offset="0.8" stop-color="#383838"/><stop offset="0.85" stop-color="#1f1f1f"/><stop offset="0.9" stop-color="#101010"/><stop offset="0.95" stop-color="#070707"/><stop offset="1" stop-color="#000000"/></linearGradient>
<linearGradient id="z1_17" gradientUnits="userSpaceOnUse" x1="0" y1="711.6" x2="0" y2="831.6"><stop offset="0" stop-color="#000000"/><stop offset="0.05" stop-color="#070707"/><stop offset="0.1" stop-color="#101010"/><stop offset="0.15" stop-color="#1f1f1f"/><stop offset="0.2" stop-color="#383838"/><stop offset="0.25" stop-color="#5c5c5c"/><stop offset="0.3" stop-color="#8a8a8a"/><stop offset="0.35" stop-color="#bebebe"/><stop offset="0.4" stop-color="#eeeeee"/><stop offset="0.45" stop-color="#ffffff"/><stop offset="0.5" stop-color="#ffffff"/><stop offset="0.55" stop-color="#ffffff"/><stop offset="0.6" stop-color="#eeeeee"/><stop offset="0.65" stop-color="#bebebe"/><stop offset="0.7" stop-color="#8a8a8a"/><stop offset="0.75" stop-color="#5c5c5c"/><stop offset="0.8" stop-color="#383838"/><stop offset="0.85" stop-color="#1f1f1f"/><stop offset="0.9" stop-color="#101010"/><stop offset="0.95" stop-color="#070707"/><stop offset="1" stop-color="#000000"/></linearGradient>
<linearGradient id="z1_18" gradientUnits="userSpaceOnUse" x1="0" y1="711.6" x2="0" y2="831.6"><stop offset="0" stop-color="#000000"/><stop offset="0.05" stop-color="#070707"/><stop offset="0.1" stop-color="#0f0f0f"/><stop offset="0.15" stop-color="#1e1e1e"/><stop offset="0.2" stop-color="#363636"/><stop offset="0.25" stop-color="#585858"/><stop offset="0.3" stop-color="#848484"/><stop offset="0.35" stop-color="#b5b5b5"/><stop offset="0.4" stop-color="#e3e3e3"/><stop offset="0.45" stop-color="#ffffff"/><stop offset="0.5" stop-color="#ffffff"/><stop offset="0.55" stop-color="#ffffff"/><stop offset="0.6" stop-color="#e3e3e3"/><stop offset="0.65" stop-color="#b5b5b5"/><stop offset="0.7" stop-color="#848484"/><stop offset="0.75" stop-color="#585858"/><stop offset="0.8" stop-color="#363636"/><stop offset="0.85" stop-color="#1e1e1e"/><stop offset="0.9" stop-color="#0f0f0f"/><stop offset="0.95" stop-color="#070707"/><stop offset="1" stop-color="#000000"/></linearGradient>
<linearGradient id="z1_19" gradientUnits="userSpaceOnUse" x1="0" y1="711.6" x2="0" y2="831.6"><stop offset="0" stop-color="#000000"/><stop offset="0.05" stop-color="#060606"/><stop offset="0.1" stop-color="#0e0e0e"/><stop offset="0.15" stop-color="#1b1b1b"/><stop offset="0.2" stop-color="#313131"/><stop offset="0.25" stop-color="#505050"/><stop offset="0.3" stop-color="#787878"/><stop offset="0.35" stop-color="#a4a4a4"/><stop offset="0.4" stop-color="#cecece"/><stop offset="0.45" stop-color="#ebebeb"/><stop offset="0.5" stop-color="#f6f6f6"/><stop offset="0.55" stop-color="#ebebeb"/><stop offset="0.6" stop-color="#cecece"/><stop offset="0.65" stop-color="#a4a4a4"/><stop offset="0.7" stop-color="#787878"/><stop offset="0.75" stop-color="#505050"/><stop offset="0.8" stop-color="#313131"/><stop offset="0.85" stop-color="#1b1b1b"/><stop offset="0.9" stop-color="#0e0e0e"/><stop offset="0.95" stop-color="#060606"/><stop offset="1" stop-color="#000000"/></linearGradient>
<linearGradient id="z1_20" gradientUnits="userSpaceOnUse" x1="0" y1="711.6" x2="0" y2="831.6"><stop offset="0" stop-color="#000000"/><stop offset="0.05" stop-color="#060606"/><stop offset="0.1" stop-color="#0c0c0c"/><stop offset="0.15" stop-color="#171717"/><stop offset="0.2" stop-color="#2a2a2a"/><stop offset="0.25" stop-color="#454545"/><stop offset="0.3" stop-color="#686868"/><stop offset="0.35" stop-color="#8e8e8e"/><stop offset="0.4" stop-color="#b2b2b2"/><stop offset="0.45" stop-color="#cbcbcb"/><stop offset="0.5" stop-color="#d5d5d5"/><stop offset="0.55" stop-color="#cbcbcb"/><stop offset="0.6" stop-color="#b2b2b2"/><stop offset="0.65" stop-color="#8e8e8e"/><stop offset="0.7" stop-color="#686868"/><stop offset="0.75" stop-color="#454545"/><stop offset="0.8" stop-color="#2a2a2a"/><stop offset="0.85" stop-color="#171717"/><stop offset="0.9" stop-color="#0c0c0c"/><stop offset="0.95" stop-color="#060606"/><stop offset="1" stop-color="#000000"/></linearGradient>
<linearGradient id="z1_21" gradientUnits="userSpaceOnUse" x1="0" y1="711.6" x2="0" y2="831.6"><stop offset="0" stop-color="#000000"/><stop offset="0.05" stop-color="#050505"/><stop offset="0.1" stop-color="#0a0a0a"/><stop offset="0.15" stop-color="#131313"/><stop offset="0.2" stop-color="#232323"/><stop offset="0.25" stop-color="#393939"/><stop offset="0.3" stop-color="#555555"/><stop offset="0.35" stop-color="#757575"/><stop offset="0.4" stop-color="#939393"/><stop offset="0.45" stop-color="#a8a8a8"/><stop offset="0.5" stop-color="#b0b0b0"/><stop offset="0.55" stop-color="#a8a8a8"/><stop offset="0.6" stop-color="#939393"/><stop offset="0.65" stop-color="#757575"/><stop offset="0.7" stop-color="#555555"/><stop offset="0.75" stop-color="#393939"/><stop offset="0.8" stop-color="#232323"/><stop offset="0.85" stop-color="#131313"/><stop offset="0.9" stop-color="#0a0a0a"/><stop offset="0.95" stop-color="#050505"/><stop offset="1" stop-color="#000000"/></linearGradient>
<linearGradient id="z1_22" gradientUnits="userSpaceOnUse" x1="0" y1="711.6" x2="0" y2="831.6"><stop offset="0" stop-color="#000000"/><stop offset="0.05" stop-color="#040404"/><stop offset="0.1" stop-color="#080808"/><stop offset="0.15" stop-color="#0f0f0f"/><stop offset="0.2" stop-color="#1b1b1b"/><stop offset="0.25" stop-color="#2d2d2d"/><stop offset="0.3" stop-color="#444444"/><stop offset="0.35" stop-color="#5d5d5d"/><stop offset="0.4" stop-color="#747474"/><stop offset="0.45" stop-color="#858585"/><stop offset="0.5" stop-color="#8b8b8b"/><stop offset="0.55" stop-color="#858585"/><stop offset="0.6" stop-color="#747474"/><stop offset="0.65" stop-color="#5d5d5d"/><stop offset="0.7" stop-color="#444444"/><stop offset="0.75" stop-color="#2d2d2d"/><stop offset="0.8" stop-color="#1b1b1b"/><stop offset="0.85" stop-color="#0f0f0f"/><stop offset="0.9" stop-color="#080808"/><stop offset="0.95" stop-color="#040404"/><stop offset="1" stop-color="#000000"/></linearGradient>
<linearGradient id="z1_23" gradientUnits="userSpaceOnUse" x1="0" y1="711.6" x2="0" y2="831.6"><stop offset="0" stop-color="#000000"/><stop offset="0.05" stop-color="#030303"/><stop offset="0.1" stop-color="#060606"/><stop offset="0.15" stop-color="#0c0c0c"/><stop offset="0.2" stop-color="#151515"/><stop offset="0.25" stop-color="#222222"/><stop offset="0.3" stop-color="#343434"/><stop offset="0.35" stop-color="#474747"/><stop offset="0.4" stop-color="#595959"/><stop offset="0.45" stop-color="#656565"/><stop offset="0.5" stop-color="#6a6a6a"/><stop offset="0.55" stop-color="#656565"/><stop offset="0.6" stop-color="#595959"/><stop offset="0.65" stop-color="#474747"/><stop offset="0.7" stop-color="#343434"/><stop offset="0.75" stop-color="#222222"/><stop offset="0.8" stop-color="#151515"/><stop offset="0.85" stop-color="#0c0c0c"/><stop offset="0.9" stop-color="#060606"/><stop offset="0.95" stop-color="#030303"/><stop offset="1" stop-color="#000000"/></linearGradient>
<linearGradient id="z1_24" gradientUnits="userSpaceOnUse" x1="0" y1="711.6" x2="0" y2="831.6"><stop offset="0" stop-color="#000000"/><stop offset="0.05" stop-color="#020202"/><stop offset="0.1" stop-color="#040404"/><stop offset="0.15" stop-color="#090909"/><stop offset="0.2" stop-color="#101010"/><stop offset="0.25" stop-color="#1a1a1a"/><stop offset="0.3" stop-color="#262626"/><stop offset="0.35" stop-color="#343434"/><stop offset="0.4" stop-color="#424242"/><stop offset="0.45" stop-color="#4b4b4b"/><stop offset="0.5" stop-color="#4f4f4f"/><stop offset="0.55" stop-color="#4b4b4b"/><stop offset="0.6" stop-color="#424242"/><stop offset="0.65" stop-color="#343434"/><stop offset="0.7" stop-color="#262626"/><stop offset="0.75" stop-color="#1a1a1a"/><stop offset="0.8" stop-color="#101010"/><stop offset="0.85" stop-color="#090909"/><stop offset="0.9" stop-color="#040404"/><stop offset="0.95" stop-color="#020202"/><stop offset="1" stop-color="#000000"/></linearGradient>
<linearGradient id="z1_25" gradientUnits="userSpaceOnUse" x1="0" y1="711.6" x2="0" y2="831.6"><stop offset="0" stop-color="#000000"/><stop offset="0.05" stop-color="#010101"/><stop offset="0.1" stop-color="#030303"/><stop offset="0.15" stop-color="#060606"/><stop offset="0.2" stop-color="#0b0b0b"/><stop offset="0.25" stop-color="#131313"/><stop offset="0.3" stop-color="#1c1c1c"/><stop offset="0.35" stop-color="#262626"/><stop offset="0.4" stop-color="#303030"/><stop offset="0.45" stop-color="#373737"/><stop offset="0.5" stop-color="#393939"/><stop offset="0.55" stop-color="#373737"/><stop offset="0.6" stop-color="#303030"/><stop offset="0.65" stop-color="#262626"/><stop offset="0.7" stop-color="#1c1c1c"/><stop offset="0.75" stop-color="#131313"/><stop offset="0.8" stop-color="#0b0b0b"/><stop offset="0.85" stop-color="#060606"/><stop offset="0.9" stop-color="#030303"/><stop offset="0.95" stop-color="#010101"/><stop offset="1" stop-color="#000000"/></linearGradient>
<linearGradient id="z1_26" gradientUnits="userSpaceOnUse" x1="0" y1="711.6" x2="0" y2="831.6"><stop offset="0" stop-color="#000000"/><stop offset="0.05" stop-color="#010101"/><stop offset="0.1" stop-color="#020202"/><stop offset="0.15" stop-color="#050505"/><stop offset="0.2" stop-color="#080808"/><stop offset="0.25" stop-color="#0d0d0d"/><stop offset="0.3" stop-color="#141414"/><stop offset="0.35" stop-color="#1b1b1b"/><stop offset="0.4" stop-color="#222222"/><stop offset="0.45" stop-color="#272727"/><stop offset="0.5" stop-color="#292929"/><stop offset="0.55" stop-color="#272727"/><stop offset="0.6" stop-color="#222222"/><stop offset="0.65" stop-color="#1b1b1b"/><stop offset="0.7" stop-color="#141414"/><stop offset="0.75" stop-color="#0d0d0d"/><stop offset="0.8" stop-color="#080808"/><stop offset="0.85" stop-color="#050505"/><stop offset="0.9" stop-color="#020202"/><stop offset="0.95" stop-color="#010101"/><stop offset="1" stop-color="#000000"/></linearGradient>
<linearGradient id="z1_27" gradientUnits="userSpaceOnUse" x1="0" y1="711.6" x2="0" y2="831.6"><stop offset="0" stop-color="#000000"/><stop offset="0.05" stop-color="#010101"/><stop offset="0.1" stop-color="#020202"/><stop offset="0.15" stop-color="#030303"/><stop offset="0.2" stop-color="#060606"/><stop offset="0.25" stop-color="#090909"/><stop offset="0.3" stop-color="#0e0e0e"/><stop offset="0.35" stop-color="#141414"/><stop offset="0.4" stop-color="#181818"/><stop offset="0.45" stop-color="#1c1c1c"/><stop offset="0.5" stop-color="#1d1d1d"/><stop offset="0.55" stop-color="#1c1c1c"/><stop offset="0.6" stop-color="#181818"/><stop offset="0.65" stop-color="#141414"/><stop offset="0.7" stop-color="#0e0e0e"/><stop offset="0.75" stop-color="#090909"/><stop offset="0.8" stop-color="#060606"/><stop offset="0.85" stop-color="#030303"/><stop offset="0.9" stop-color="#020202"/><stop offset="0.95" stop-color="#010101"/><stop offset="1" stop-color="#000000"/></linearGradient>
<linearGradient id="z1_28" gradientUnits="userSpaceOnUse" x1="0" y1="711.6" x2="0" y2="831.6"><stop offset="0" stop-color="#000000"/><stop offset="0.05" stop-color="#010101"/><stop offset="0.1" stop-color="#010101"/><stop offset="0.15" stop-color="#020202"/><stop offset="0.2" stop-color="#040404"/><stop offset="0.25" stop-color="#070707"/><stop offset="0.3" stop-color="#0a0a0a"/><stop offset="0.35" stop-color="#0e0e0e"/><stop offset="0.4" stop-color="#111111"/><stop offset="0.45" stop-color="#141414"/><stop offset="0.5" stop-color="#151515"/><stop offset="0.55" stop-color="#141414"/><stop offset="0.6" stop-color="#111111"/><stop offset="0.65" stop-color="#0e0e0e"/><stop offset="0.7" stop-color="#0a0a0a"/><stop offset="0.75" stop-color="#070707"/><stop offset="0.8" stop-color="#040404"/><stop offset="0.85" stop-color="#020202"/><stop offset="0.9" stop-color="#010101"/><stop offset="0.95" stop-color="#010101"/><stop offset="1" stop-color="#000000"/></linearGradient>
<linearGradient id="z1_29" gradientUnits="userSpaceOnUse" x1="0" y1="711.6" x2="0" y2="831.6"><stop offset="0" stop-color="#000000"/><stop offset="0.05" stop-color="#000000"/><stop offset="0.1" stop-color="#010101"/><stop offset="0.15" stop-color="#020202"/><stop offset="0.2" stop-color="#030303"/><stop offset="0.25" stop-color="#050505"/><stop offset="0.3" stop-color="#070707"/><stop offset="0.35" stop-color="#0a0a0a"/><stop offset="0.4" stop-color="#0c0c0c"/><stop offset="0.45" stop-color="#0e0e0e"/><stop offset="0.5" stop-color="#0f0f0f"/><stop offset="0.55" stop-color="#0e0e0e"/><stop offset="0.6" stop-color="#0c0c0c"/><stop offset="0.65" stop-color="#0a0a0a"/><stop offset="0.7" stop-color="#070707"/><stop offset="0.75" stop-color="#050505"/><stop offset="0.8" stop-color="#030303"/><stop offset="0.85" stop-color="#020202"/><stop offset="0.9" stop-color="#010101"/><stop offset="0.95" stop-color="#000000"/><stop offset="1" stop-color="#000000"/></linearGradient>
<linearGradient id="z1_30" gradientUnits="userSpaceOnUse" x1="0" y1="711.6" x2="0" y2="831.6"><stop offset="0" stop-color="#000000"/><stop offset="0.05" stop-color="#000000"/><stop offset="0.1" stop-color="#010101"/><stop offset="0.15" stop-color="#010101"/><stop offset="0.2" stop-color="#020202"/><stop offset="0.25" stop-color="#030303"/><stop offset="0.3" stop-color="#050505"/><stop offset="0.35" stop-color="#070707"/><stop offset="0.4" stop-color="#090909"/><stop offset="0.45" stop-color="#0a0a0a"/><stop offset="0.5" stop-color="#0b0b0b"/><stop offset="0.55" stop-color="#0a0a0a"/><stop offset="0.6" stop-color="#090909"/><stop offset="0.65" stop-color="#070707"/><stop offset="0.7" stop-color="#050505"/><stop offset="0.75" stop-color="#030303"/><stop offset="0.8" stop-color="#020202"/><stop offset="0.85" stop-color="#010101"/><stop offset="0.9" stop-color="#010101"/><stop offset="0.95" stop-color="#000000"/><stop offset="1" stop-color="#000000"/></linearGradient>
<radialGradient id="xy2" gradientUnits="userSpaceOnUse" cx="116.8" cy="1205.2" r="60"><stop offset="0" stop-color="rgb(255,255,255)"/><stop offset="0.03" stop-color="rgb(254,254,254)"/><stop offset="0.06" stop-color="rgb(250,250,250)"/><stop offset="0.09" stop-color="rgb(243,243,243)"/><stop offset="0.12" stop-color="rgb(234,234,234)"/><stop offset="0.15" stop-color="rgb(223,223,223)"/><stop offset="0.18" stop-color="rgb(210,210,210)"/><stop offset="0.21" stop-color="rgb(195,195,195)"/><stop offset="0.24" stop-color="rgb(180,180,180)"/><stop offset="0.27" stop-color="rgb(165,165,165)"/><stop offset="0.3" stop-color="rgb(149,149,149)"/><stop offset="0.33" stop-color="rgb(133,133,133)"/><stop offset="0.36" stop-color="rgb(118,118,118)"/><stop offset="0.39" stop-color="rgb(103,103,103)"/><stop offset="0.42" stop-color="rgb(89,89,89)"/><stop offset="0.45" stop-color="rgb(77,77,77)"/><stop offset="0.48" stop-color="rgb(65,65,65)"/><stop offset="0.52" stop-color="rgb(55,55,55)"/><stop offset="0.55" stop-color="rgb(46,46,46)"/><stop offset="0.58" stop-color="rgb(38,38,38)"/><stop offset="0.61" stop-color="rgb(31,31,31)"/><stop offset="0.64" stop-color="rgb(25,25,25)"/><stop offset="0.67" stop-color="rgb(20,20,20)"/><stop offset="0.7" stop-color="rgb(16,16,16)"/><stop offset="0.73" stop-color="rgb(13,13,13)"/><stop offset="0.76" stop-color="rgb(10,10,10)"/><stop offset="0.79" stop-color="rgb(8,8,8)"/><stop offset="0.82" stop-color="rgb(6,6,6)"/><stop offset="0.85" stop-color="rgb(4,4,4)"/><stop offset="0.88" stop-color="rgb(3,3,3)"/><stop offset="0.91" stop-color="rgb(2,2,2)"/><stop offset="0.94" stop-color="rgb(1,1,1)"/><stop offset="0.97" stop-color="rgb(1,1,1)"/><stop offset="1" stop-color="rgb(0,0,0)"/></radialGradient>
<linearGradient id="z2_3" gradientUnits="userSpaceOnUse" x1="0" y1="1143.7" x2="0" y2="1263.7"><stop offset="0" stop-color="#000000"/><stop offset="0.05" stop-color="#000000"/><stop offset="0.1" stop-color="#010101"/><stop offset="0.15" stop-color="#010101"/><stop offset="0.2" stop-color="#020202"/><stop offset="0.25" stop-color="#030303"/><stop offset="0.3" stop-color="#050505"/><stop offset="0.35" stop-color="#070707"/><stop offset="0.4" stop-color="#080808"/><stop offset="0.45" stop-color="#0a0a0a"/><stop offset="0.5" stop-color="#0a0a0a"/><stop offset="0.55" stop-color="#0a0a0a"/><stop offset="0.6" stop-color="#080808"/><stop offset="0.65" stop-color="#070707"/><stop offset="0.7" stop-color="#050505"/><stop offset="0.75" stop-color="#030303"/><stop offset="0.8" stop-color="#020202"/><stop offset="0.85" stop-color="#010101"/><stop offset="0.9" stop-color="#010101"/><stop offset="0.95" stop-color="#000000"/><stop offset="1" stop-color="#000000"/></linearGradient>
<linearGradient id="z2_4" gradientUnits="userSpaceOnUse" x1="0" y1="1143.7" x2="0" y2="1263.7"><stop offset="0" stop-color="#000000"/><stop offset="0.05" stop-color="#000000"/><stop offset="0.1" stop-color="#010101"/><stop offset="0.15" stop-color="#020202"/><stop offset="0.2" stop-color="#030303"/><stop offset="0.25" stop-color="#050505"/><stop offset="0.3" stop-color="#070707"/><stop offset="0.35" stop-color="#090909"/><stop offset="0.4" stop-color="#0c0c0c"/><stop offset="0.45" stop-color="#0d0d0d"/><stop offset="0.5" stop-color="#0e0e0e"/><stop offset="0.55" stop-color="#0d0d0d"/><stop offset="0.6" stop-color="#0c0c0c"/><stop offset="0.65" stop-color="#090909"/><stop offset="0.7" stop-color="#070707"/><stop offset="0.75" stop-color="#050505"/><stop offset="0.8" stop-color="#030303"/><stop offset="0.85" stop-color="#020202"/><stop offset="0.9" stop-color="#010101"/><stop offset="0.95" stop-color="#000000"/><stop offset="1" stop-color="#000000"/></linearGradient>
<linearGradient id="z2_5" gradientUnits="userSpaceOnUse" x1="0" y1="1143.7" x2="0" y2="1263.7"><stop offset="0" stop-color="#000000"/><stop offset="0.05" stop-color="#010101"/><stop offset="0.1" stop-color="#010101"/><stop offset="0.15" stop-color="#020202"/><stop offset="0.2" stop-color="#040404"/><stop offset="0.25" stop-color="#060606"/><stop offset="0.3" stop-color="#0a0a0a"/><stop offset="0.35" stop-color="#0d0d0d"/><stop offset="0.4" stop-color="#101010"/><stop offset="0.45" stop-color="#131313"/><stop offset="0.5" stop-color="#141414"/><stop offset="0.55" stop-color="#131313"/><stop offset="0.6" stop-color="#101010"/><stop offset="0.65" stop-color="#0d0d0d"/><stop offset="0.7" stop-color="#0a0a0a"/><stop offset="0.75" stop-color="#060606"/><stop offset="0.8" stop-color="#040404"/><stop offset="0.85" stop-color="#020202"/><stop offset="0.9" stop-color="#010101"/><stop offset="0.95" stop-color="#010101"/><stop offset="1" stop-color="#000000"/></linearGradient>
<linearGradient id="z2_6" gradientUnits="userSpaceOnUse" x1="0" y1="1143.7" x2="0" y2="1263.7"><stop offset="0" stop-color="#000000"/><stop offset="0.05" stop-color="#010101"/><stop offset="0.1" stop-color="#020202"/><stop offset="0.15" stop-color="#030303"/><stop offset="0.2" stop-color="#050505"/><stop offset="0.25" stop-color="#090909"/><stop offset="0.3" stop-color="#0d0d0d"/><stop offset="0.35" stop-color="#121212"/><stop offset="0.4" stop-color="#171717"/><stop offset="0.45" stop-color="#1a1a1a"/><stop offset="0.5" stop-color="#1c1c1c"/><stop offset="0.55" stop-color="#1a1a1a"/><stop offset="0.6" stop-color="#171717"/><stop offset="0.65" stop-color="#121212"/><stop offset="0.7" stop-color="#0d0d0d"/><stop offset="0.75" stop-color="#090909"/><stop offset="0.8" stop-color="#050505"/><stop offset="0.85" stop-color="#030303"/><stop offset="0.9" stop-color="#020202"/><stop offset="0.95" stop-color="#010101"/><stop offset="1" stop-color="#000000"/></linearGradient>
<linearGradient id="z2_7" gradientUnits="userSpaceOnUse" x1="0" y1="1143.7" x2="0" y2="1263.7"><stop offset="0" stop-color="#000000"/><stop offset="0.05" stop-color="#010101"/><stop offset="0.1" stop-color="#020202"/><stop offset="0.15" stop-color="#040404"/><stop offset="0.2" stop-color="#080808"/><stop offset="0.25" stop-color="#0d0d0d"/><stop offset="0.3" stop-color="#131313"/><stop offset="0.35" stop-color="#1a1a1a"/><stop offset="0.4" stop-color="#202020"/><stop offset="0.45" stop-color="#252525"/><stop offset="0.5" stop-color="#272727"/><stop offset="0.55" stop-color="#252525"/><stop offset="0.6" stop-color="#202020"/><stop offset="0.65" stop-color="#1a1a1a"/><stop offset="0.7" stop-color="#131313"/><stop offset="0.75" stop-color="#0d0d0d"/><stop offset="0.8" stop-color="#080808"/><stop offset="0.85" stop-color="#040404"/><stop offset="0.9" stop-color="#020202"/><stop offset="0.95" stop-color="#010101"/><stop offset="1" stop-color="#000000"/></linearGradient>
<linearGradient id="z2_8" gradientUnits="userSpaceOnUse" x1="0" y1="1143.7" x2="0" y2="1263.7"><stop offset="0" stop-color="#000000"/><stop offset="0.05" stop-color="#010101"/><stop offset="0.1" stop-color="#030303"/><stop offset="0.15" stop-color="#060606"/><stop offset="0.2" stop-color="#0b0b0b"/><stop offset="0.25" stop-color="#111111"/><stop offset="0.3" stop-color="#1a1a1a"/><stop offset="0.35" stop-color="#242424"/><stop offset="0.4" stop-color="#2d2d2d"/><stop offset="0.45" stop-color="#333333"/><stop offset="0.5" stop-color="#363636"/><stop offset="0.55" stop-color="#333333"/><stop offset="0.6" stop-color="#2d2d2d"/><stop offset="0.65" stop-color="#242424"/><stop offset="0.7" stop-color="#1a1a1a"/><stop offset="0.75" stop-color="#111111"/><stop offset="0.8" stop-color="#0b0b0b"/><stop offset="0.85" stop-color="#060606"/><stop offset="0.9" stop-color="#030303"/><stop offset="0.95" stop-color="#010101"/><stop offset="1" stop-color="#000000"/></linearGradient>
<linearGradient id="z2_9" gradientUnits="userSpaceOnUse" x1="0" y1="1143.7" x2="0" y2="1263.7"><stop offset="0" stop-color="#000000"/><stop offset="0.05" stop-color="#020202"/><stop offset="0.1" stop-color="#040404"/><stop offset="0.15" stop-color="#080808"/><stop offset="0.2" stop-color="#0f0f0f"/><stop offset="0.25" stop-color="#181818"/><stop offset="0.3" stop-color="#242424"/><stop offset="0.35" stop-color="#323232"/><stop offset="0.4" stop-color="#3e3e3e"/><stop offset="0.45" stop-color="#474747"/><stop offset="0.5" stop-color="#4a4a4a"/><stop offset="0.55" stop-color="#474747"/><stop offset="0.6" stop-color="#3e3e3e"/><stop offset="0.65" stop-color="#323232"/><stop offset="0.7" stop-color="#242424"/><stop offset="0.75" stop-color="#181818"/><stop offset="0.8" stop-color="#0f0f0f"/><stop offset="0.85" stop-color="#080808"/><stop offset="0.9" stop-color="#040404"/><stop offset="0.95" stop-color="#020202"/><stop offset="1" stop-color="#000000"/></linearGradient>
<linearGradient id="z2_10" gradientUnits="userSpaceOnUse" x1="0" y1="1143.7" x2="0" y2="1263.7"><stop offset="0" stop-color="#000000"/><stop offset="0.05" stop-color="#030303"/><stop offset="0.1" stop-color="#060606"/><stop offset="0.15" stop-color="#0b0b0b"/><stop offset="0.2" stop-color="#141414"/><stop offset="0.25" stop-color="#212121"/><stop offset="0.3" stop-color="#313131"/><stop offset="0.35" stop-color="#434343"/><stop offset="0.4" stop-color="#545454"/><stop offset="0.45" stop-color="#606060"/><stop offset="0.5" stop-color="#656565"/><stop offset="0.55" stop-color="#606060"/><stop offset="0.6" stop-color="#545454"/><stop offset="0.65" stop-color="#434343"/><stop offset="0.7" stop-color="#313131"/><stop offset="0.75" stop-color="#212121"/><stop offset="0.8" stop-color="#141414"/><stop offset="0.85" stop-color="#0b0b0b"/><stop offset="0.9" stop-color="#060606"/><stop offset="0.95" stop-color="#030303"/><stop offset="1" stop-color="#000000"/></linearGradient>
<linearGradient id="z2_11" gradientUnits="userSpaceOnUse" x1="0" y1="1143.7" x2="0" y2="1263.7"><stop offset="0" stop-color="#000000"/><stop offset="0.05" stop-color="#030303"/><stop offset="0.1" stop-color="#070707"/><stop offset="0.15" stop-color="#0f0f0f"/><stop offset="0.2" stop-color="#1a1a1a"/><stop offset="0.25" stop-color="#2b2b2b"/><stop offset="0.3" stop-color="#414141"/><stop offset="0.35" stop-color="#595959"/><stop offset="0.4" stop-color="#6f6f6f"/><stop offset="0.45" stop-color="#7f7f7f"/><stop offset="0.5" stop-color="#858585"/><stop offset="0.55" stop-color="#7f7f7f"/><stop offset="0.6" stop-color="#6f6f6f"/><stop offset="0.65" stop-color="#595959"/><stop offset="0.7" stop-color="#414141"/><stop offset="0.75" stop-color="#2b2b2b"/><stop offset="0.8" stop-color="#1a1a1a"/><stop offset="0.85" stop-color="#0f0f0f"/><stop offset="0.9" stop-color="#070707"/><stop offset="0.95" stop-color="#030303"/><stop offset="1" stop-color="#000000"/></linearGradient>
<linearGradient id="z2_12" gradientUnits="userSpaceOnUse" x1="0" y1="1143.7" x2="0" y2="1263.7"><stop offset="0" stop-color="#000000"/><stop offset="0.05" stop-color="#040404"/><stop offset="0.1" stop-color="#090909"/><stop offset="0.15" stop-color="#131313"/><stop offset="0.2" stop-color="#212121"/><stop offset="0.25" stop-color="#373737"/><stop offset="0.3" stop-color="#525252"/><stop offset="0.35" stop-color="#717171"/><stop offset="0.4" stop-color="#8d8d8d"/><stop offset="0.45" stop-color="#a1a1a1"/><stop offset="0.5" stop-color="#a9a9a9"/><stop offset="0.55" stop-color="#a1a1a1"/><stop offset="0.6" stop-color="#8d8d8d"/><stop offset="0.65" stop-color="#717171"/><stop offset="0.7" stop-color="#525252"/><stop offset="0.75" stop-color="#373737"/><stop offset="0.8" stop-color="#212121"/><stop offset="0.85" stop-color="#131313"/><stop offset="0.9" stop-color="#090909"/><stop offset="0.95" stop-color="#040404"/><stop offset="1" stop-color="#000000"/></linearGradient>
<linearGradient id="z2_13" gradientUnits="userSpaceOnUse" x1="0" y1="1143.7" x2="0" y2="1263.7"><stop offset="0" stop-color="#000000"/><stop offset="0.05" stop-color="#050505"/><stop offset="0.1" stop-color="#0c0c0c"/><stop offset="0.15" stop-color="#171717"/><stop offset="0.2" stop-color="#292929"/><stop offset="0.25" stop-color="#434343"/><stop offset="0.3" stop-color="#646464"/><stop offset="0.35" stop-color="#8a8a8a"/><stop offset="0.4" stop-color="#acacac"/><stop offset="0.45" stop-color="#c5c5c5"/><stop offset="0.5" stop-color="#cecece"/><stop offset="0.55" stop-color="#c5c5c5"/><stop offset="0.6" stop-color="#acacac"/><stop offset="0.65" stop-color="#8a8a8a"/><stop offset="0.7" stop-color="#646464"/><stop offset="0.75" stop-color="#434343"/><stop offset="0.8" stop-color="#292929"/><stop offset="0.85" stop-color="#171717"/><stop offset="0.9" stop-color="#0c0c0c"/><stop offset="0.95" stop-color="#050505"/><stop offset="1" stop-color="#000000"/></linearGradient>
<linearGradient id="z2_14" gradientUnits="userSpaceOnUse" x1="0" y1="1143.7" x2="0" y2="1263.7"><stop offset="0" stop-color="#000000"/><stop offset="0.05" stop-color="#060606"/><stop offset="0.1" stop-color="#0e0e0e"/><stop offset="0.15" stop-color="#1b1b1b"/><stop offset="0.2" stop-color="#303030"/><stop offset="0.25" stop-color="#4e4e4e"/><stop offset="0.3" stop-color="#757575"/><stop offset="0.35" stop-color="#a1a1a1"/><stop offset="0.4" stop-color="#c9c9c9"/><stop offset="0.45" stop-color="#e6e6e6"/><stop offset="0.5" stop-color="#f1f1f1"/><stop offset="0.55" stop-color="#e6e6e6"/><stop offset="0.6" stop-color="#c9c9c9"/><stop offset="0.65" stop-color="#a1a1a1"/><stop offset="0.7" stop-color="#757575"/><stop offset="0.75" stop-color="#4e4e4e"/><stop offset="0.8" stop-color="#303030"/><stop offset="0.85" stop-color="#1b1b1b"/><stop offset="0.9" stop-color="#0e0e0e"/><stop offset="0.95" stop-color="#060606"/><stop offset="1" stop-color="#000000"/></linearGradient>
<linearGradient id="z2_15" gradientUnits="userSpaceOnUse" x1="0" y1="1143.7" x2="0" y2="1263.7"><stop offset="0" stop-color="#000000"/><stop offset="0.05" stop-color="#070707"/><stop offset="0.1" stop-color="#0f0f0f"/><stop offset="0.15" stop-color="#1e1e1e"/><stop offset="0.2" stop-color="#353535"/><stop offset="0.25" stop-color="#575757"/><stop offset="0.3" stop-color="#828282"/><stop offset="0.35" stop-color="#b3b3b3"/><stop offset="0.4" stop-color="#e0e0e0"/><stop offset="0.45" stop-color="#ffffff"/><stop offset="0.5" stop-color="#ffffff"/><stop offset="0.55" stop-color="#ffffff"/><stop offset="0.6" stop-color="#e0e0e0"/><stop offset="0.65" stop-color="#b3b3b3"/><stop offset="0.7" stop-color="#828282"/><stop offset="0.75" stop-color="#575757"/><stop offset="0.8" stop-color="#353535"/><stop offset="0.85" stop-color="#1e1e1e"/><stop offset="0.9" stop-color="#0f0f0f"/><stop offset="0.95" stop-color="#070707"/><stop offset="1" stop-color="#000000"/></linearGradient>
<linearGradient id="z2_16" gradientUnits="userSpaceOnUse" x1="0" y1="1143.7" x2="0" y2="1263.7"><stop offset="0" stop-color="#000000"/><stop offset="0.05" stop-color="#070707"/><stop offset="0.1" stop-color="#101010"/><stop offset="0.15" stop-color="#1f1f1f"/><stop offset="0.2" stop-color="#383838"/><stop offset="0.25" stop-color="#5c5c5c"/><stop offset="0.3" stop-color="#8a8a8a"/><stop offset="0.35" stop-color="#bdbdbd"/><stop offset="0.4" stop-color="#ececec"/><stop offset="0.45" stop-color="#ffffff"/><stop offset="0.5" stop-color="#ffffff"/><stop offset="0.55" stop-color="#ffffff"/><stop offset="0.6" stop-color="#ececec"/><stop offset="0.65" stop-color="#bdbdbd"/><stop offset="0.7" stop-color="#8a8a8a"/><stop offset="0.75" stop-color="#5c5c5c"/><stop offset="0.8" stop-color="#383838"/><stop offset="0.85" stop-color="#1f1f1f"/><stop offset="0.9" stop-color="#101010"/><stop offset="0.95" stop-color="#070707"/><stop offset="1" stop-color="#000000"/></linearGradient>
<linearGradient id="z2_17" gradientUnits="userSpaceOnUse" x1="0" y1="1143.7" x2="0" y2="1263.7"><stop offset="0" stop-color="#000000"/><stop offset="0.05" stop-color="#070707"/><stop offset="0.1" stop-color="#101010"/><stop offset="0.15" stop-color="#1f1f1f"/><stop offset="0.2" stop-color="#383838"/><stop offset="0.25" stop-color="#5c5c5c"/><stop offset="0.3" stop-color="#8a8a8a"/><stop offset="0.35" stop-color="#bebebe"/><stop offset="0.4" stop-color="#eeeeee"/><stop offset="0.45" stop-color="#ffffff"/><stop offset="0.5" stop-color="#ffffff"/><stop offset="0.55" stop-color="#ffffff"/><stop offset="0.6" stop-color="#eeeeee"/><stop offset="0.65" stop-color="#bebebe"/><stop offset="0.7" stop-color="#8a8a8a"/><stop offset="0.75" stop-color="#5c5c5c"/><stop offset="0.8" stop-color="#383838"/><stop offset="0.85" stop-color="#1f1f1f"/><stop offset="0.9" stop-color="#101010"/><stop offset="0.95" stop-color="#070707"/><stop offset="1" stop-color="#000000"/></linearGradient>
<linearGradient id="z2_18" gradientUnits="userSpaceOnUse" x1="0" y1="1143.7" x2="0" y2="1263.7"><stop offset="0" stop-color="#000000"/><stop offset="0.05" stop-color="#070707"/><stop offset="0.1" stop-color="#0f0f0f"/><stop offset="0.15" stop-color="#1e1e1e"/><stop offset="0.2" stop-color="#363636"/><stop offset="0.25" stop-color="#585858"/><stop offset="0.3" stop-color="#848484"/><stop offset="0.35" stop-color="#b5b5b5"/><stop offset="0.4" stop-color="#e3e3e3"/><stop offset="0.45" stop-color="#ffffff"/><stop offset="0.5" stop-color="#ffffff"/><stop offset="0.55" stop-color="#ffffff"/><stop offset="0.6" stop-color="#e3e3e3"/><stop offset="0.65" stop-color="#b5b5b5"/><stop offset="0.7" stop-color="#848484"/><stop offset="0.75" stop-color="#585858"/><stop offset="0.8" stop-color="#363636"/><stop offset="0.85" stop-color="#1e1e1e"/><stop offset="0.9" stop-color="#0f0f0f"/><stop offset="0.95" stop-color="#070707"/><stop offset="1" stop-color="#000000"/></linearGradient>
<linearGradient id="z2_19" gradientUnits="userSpaceOnUse" x1="0" y1="1143.7" x2="0" y2="1263.7"><stop offset="0" stop-color="#000000"/><stop offset="0.05" stop-color="#060606"/><stop offset="0.1" stop-color="#0e0e0e"/><stop offset="0.15" stop-color="#1b1b1b"/><stop offset="0.2" stop-color="#313131"/><stop offset="0.25" stop-color="#505050"/><stop offset="0.3" stop-color="#787878"/><stop offset="0.35" stop-color="#a4a4a4"/><stop offset="0.4" stop-color="#cecece"/><stop offset="0.45" stop-color="#ebebeb"/><stop offset="0.5" stop-color="#f6f6f6"/><stop offset="0.55" stop-color="#ebebeb"/><stop offset="0.6" stop-color="#cecece"/><stop offset="0.65" stop-color="#a4a4a4"/><stop offset="0.7" stop-color="#787878"/><stop offset="0.75" stop-color="#505050"/><stop offset="0.8" stop-color="#313131"/><stop offset="0.85" stop-color="#1b1b1b"/><stop offset="0.9" stop-color="#0e0e0e"/><stop offset="0.95" stop-color="#060606"/><stop offset="1" stop-color="#000000"/></linearGradient>
<linearGradient id="z2_20" gradientUnits="userSpaceOnUse" x1="0" y1="1143.7" x2="0" y2="1263.7"><stop offset="0" stop-color="#000000"/><stop offset="0.05" stop-color="#060606"/><stop offset="0.1" stop-color="#0c0c0c"/><stop offset="0.15" stop-color="#171717"/><stop offset="0.2" stop-color="#2a2a2a"/><stop offset="0.25" stop-color="#454545"/><stop offset="0.3" stop-color="#676767"/><stop offset="0.35" stop-color="#8e8e8e"/><stop offset="0.4" stop-color="#b2b2b2"/><stop offset="0.45" stop-color="#cbcbcb"/><stop offset="0.5" stop-color="#d5d5d5"/><stop offset="0.55" stop-color="#cbcbcb"/><stop offset="0.6" stop-color="#b2b2b2"/><stop offset="0.65" stop-color="#8e8e8e"/><stop offset="0.7" stop-color="#676767"/><stop offset="0.75" stop-color="#454545"/><stop offset="0.8" stop-color="#2a2a2a"/><stop offset="0.85" stop-color="#171717"/><stop offset="0.9" stop-color="#0c0c0c"/><stop offset="0.95" stop-color="#060606"/><stop offset="1" stop-color="#000000"/></linearGradient>
<linearGradient id="z2_21" gradientUnits="userSpaceOnUse" x1="0" y1="1143.7" x2="0" y2="1263.7"><stop offset="0" stop-color="#000000"/><stop offset="0.05" stop-color="#050505"/><stop offset="0.1" stop-color="#0a0a0a"/><stop offset="0.15" stop-color="#131313"/><stop offset="0.2" stop-color="#232323"/><stop offset="0.25" stop-color="#393939"/><stop offset="0.3" stop-color="#555555"/><stop offset="0.35" stop-color="#757575"/><stop offset="0.4" stop-color="#929292"/><stop offset="0.45" stop-color="#a8a8a8"/><stop offset="0.5" stop-color="#afafaf"/><stop offset="0.55" stop-color="#a8a8a8"/><stop offset="0.6" stop-color="#929292"/><stop offset="0.65" stop-color="#757575"/><stop offset="0.7" stop-color="#555555"/><stop offset="0.75" stop-color="#393939"/><stop offset="0.8" stop-color="#232323"/><stop offset="0.85" stop-color="#131313"/><stop offset="0.9" stop-color="#0a0a0a"/><stop offset="0.95" stop-color="#050505"/><stop offset="1" stop-color="#000000"/></linearGradient>
<linearGradient id="z2_22" gradientUnits="userSpaceOnUse" x1="0" y1="1143.7" x2="0" y2="1263.7"><stop offset="0" stop-color="#000000"/><stop offset="0.05" stop-color="#040404"/><stop offset="0.1" stop-color="#080808"/><stop offset="0.15" stop-color="#0f0f0f"/><stop offset="0.2" stop-color="#1b1b1b"/><stop offset="0.25" stop-color="#2d2d2d"/><stop offset="0.3" stop-color="#444444"/><stop offset="0.35" stop-color="#5d5d5d"/><stop offset="0.4" stop-color="#747474"/><stop offset="0.45" stop-color="#858585"/><stop offset="0.5" stop-color="#8b8b8b"/><stop offset="0.55" stop-color="#858585"/><stop offset="0.6" stop-color="#747474"/><stop offset="0.65" stop-color="#5d5d5d"/><stop offset="0.7" stop-color="#444444"/><stop offset="0.75" stop-color="#2d2d2d"/><stop offset="0.8" stop-color="#1b1b1b"/><stop offset="0.85" stop-color="#0f0f0f"/><stop offset="0.9" stop-color="#080808"/><stop offset="0.95" stop-color="#040404"/><stop offset="1" stop-color="#000000"/></linearGradient>
<linearGradient id="z2_23" gradientUnits="userSpaceOnUse" x1="0" y1="1143.7" x2="0" y2="1263.7"><stop offset="0" stop-color="#000000"/><stop offset="0.05" stop-color="#030303"/><stop offset="0.1" stop-color="#060606"/><stop offset="0.15" stop-color="#0c0c0c"/><stop offset="0.2" stop-color="#151515"/><stop offset="0.25" stop-color="#222222"/><stop offset="0.3" stop-color="#343434"/><stop offset="0.35" stop-color="#474747"/><stop offset="0.4" stop-color="#585858"/><stop offset="0.45" stop-color="#656565"/><stop offset="0.5" stop-color="#6a6a6a"/><stop offset="0.55" stop-color="#656565"/><stop offset="0.6" stop-color="#585858"/><stop offset="0.65" stop-color="#474747"/><stop offset="0.7" stop-color="#343434"/><stop offset="0.75" stop-color="#222222"/><stop offset="0.8" stop-color="#151515"/><stop offset="0.85" stop-color="#0c0c0c"/><stop offset="0.9" stop-color="#060606"/><stop offset="0.95" stop-color="#030303"/><stop offset="1" stop-color="#000000"/></linearGradient>
<linearGradient id="z2_24" gradientUnits="userSpaceOnUse" x1="0" y1="1143.7" x2="0" y2="1263.7"><stop offset="0" stop-color="#000000"/><stop offset="0.05" stop-color="#020202"/><stop offset="0.1" stop-color="#040404"/><stop offset="0.15" stop-color="#090909"/><stop offset="0.2" stop-color="#101010"/><stop offset="0.25" stop-color="#191919"/><stop offset="0.3" stop-color="#262626"/><stop offset="0.35" stop-color="#343434"/><stop offset="0.4" stop-color="#424242"/><stop offset="0.45" stop-color="#4b4b4b"/><stop offset="0.5" stop-color="#4e4e4e"/><stop offset="0.55" stop-color="#4b4b4b"/><stop offset="0.6" stop-color="#424242"/><stop offset="0.65" stop-color="#343434"/><stop offset="0.7" stop-color="#262626"/><stop offset="0.75" stop-color="#191919"/><stop offset="0.8" stop-color="#101010"/><stop offset="0.85" stop-color="#090909"/><stop offset="0.9" stop-color="#040404"/><stop offset="0.95" stop-color="#020202"/><stop offset="1" stop-color="#000000"/></linearGradient>
<linearGradient id="z2_25" gradientUnits="userSpaceOnUse" x1="0" y1="1143.7" x2="0" y2="1263.7"><stop offset="0" stop-color="#000000"/><stop offset="0.05" stop-color="#010101"/><stop offset="0.1" stop-color="#030303"/><stop offset="0.15" stop-color="#060606"/><stop offset="0.2" stop-color="#0b0b0b"/><stop offset="0.25" stop-color="#131313"/><stop offset="0.3" stop-color="#1c1c1c"/><stop offset="0.35" stop-color="#262626"/><stop offset="0.4" stop-color="#303030"/><stop offset="0.45" stop-color="#363636"/><stop offset="0.5" stop-color="#393939"/><stop offset="0.55" stop-color="#363636"/><stop offset="0.6" stop-color="#303030"/><stop offset="0.65" stop-color="#262626"/><stop offset="0.7" stop-color="#1c1c1c"/><stop offset="0.75" stop-color="#131313"/><stop offset="0.8" stop-color="#0b0b0b"/><stop offset="0.85" stop-color="#060606"/><stop offset="0.9" stop-color="#030303"/><stop offset="0.95" stop-color="#010101"/><stop offset="1" stop-color="#000000"/></linearGradient>
<linearGradient id="z2_26" gradientUnits="userSpaceOnUse" x1="0" y1="1143.7" x2="0" y2="1263.7"><stop offset="0" stop-color="#000000"/><stop offset="0.05" stop-color="#010101"/><stop offset="0.1" stop-color="#020202"/><stop offset="0.15" stop-color="#050505"/><stop offset="0.2" stop-color="#080808"/><stop offset="0.25" stop-color="#0d0d0d"/><stop offset="0.3" stop-color="#141414"/><stop offset="0.35" stop-color="#1b1b1b"/><stop offset="0.4" stop-color="#222222"/><stop offset="0.45" stop-color="#272727"/><stop offset="0.5" stop-color="#292929"/><stop offset="0.55" stop-color="#272727"/><stop offset="0.6" stop-color="#222222"/><stop offset="0.65" stop-color="#1b1b1b"/><stop offset="0.7" stop-color="#141414"/><stop offset="0.75" stop-color="#0d0d0d"/><stop offset="0.8" stop-color="#080808"/><stop offset="0.85" stop-color="#050505"/><stop offset="0.9" stop-color="#020202"/><stop offset="0.95" stop-color="#010101"/><stop offset="1" stop-color="#000000"/></linearGradient>
<linearGradient id="z2_27" gradientUnits="userSpaceOnUse" x1="0" y1="1143.7" x2="0" y2="1263.7"><stop offset="0" stop-color="#000000"/><stop offset="0.05" stop-color="#010101"/><stop offset="0.1" stop-color="#020202"/><stop offset="0.15" stop-color="#030303"/><stop offset="0.2" stop-color="#060606"/><stop offset="0.25" stop-color="#090909"/><stop offset="0.3" stop-color="#0e0e0e"/><stop offset="0.35" stop-color="#131313"/><stop offset="0.4" stop-color="#181818"/><stop offset="0.45" stop-color="#1c1c1c"/><stop offset="0.5" stop-color="#1d1d1d"/><stop offset="0.55" stop-color="#1c1c1c"/><stop offset="0.6" stop-color="#181818"/><stop offset="0.65" stop-color="#131313"/><stop offset="0.7" stop-color="#0e0e0e"/><stop offset="0.75" stop-color="#090909"/><stop offset="0.8" stop-color="#060606"/><stop offset="0.85" stop-color="#030303"/><stop offset="0.9" stop-color="#020202"/><stop offset="0.95" stop-color="#010101"/><stop offset="1" stop-color="#000000"/></linearGradient>
<linearGradient id="z2_28" gradientUnits="userSpaceOnUse" x1="0" y1="1143.7" x2="0" y2="1263.7"><stop offset="0" stop-color="#000000"/><stop offset="0.05" stop-color="#010101"/><stop offset="0.1" stop-color="#010101"/><stop offset="0.15" stop-color="#020202"/><stop offset="0.2" stop-color="#040404"/><stop offset="0.25" stop-color="#070707"/><stop offset="0.3" stop-color="#0a0a0a"/><stop offset="0.35" stop-color="#0e0e0e"/><stop offset="0.4" stop-color="#111111"/><stop offset="0.45" stop-color="#141414"/><stop offset="0.5" stop-color="#151515"/><stop offset="0.55" stop-color="#141414"/><stop offset="0.6" stop-color="#111111"/><stop offset="0.65" stop-color="#0e0e0e"/><stop offset="0.7" stop-color="#0a0a0a"/><stop offset="0.75" stop-color="#070707"/><stop offset="0.8" stop-color="#040404"/><stop offset="0.85" stop-color="#020202"/><stop offset="0.9" stop-color="#010101"/><stop offset="0.95" stop-color="#010101"/><stop offset="1" stop-color="#000000"/></linearGradient>
<linearGradient id="z2_29" gradientUnits="userSpaceOnUse" x1="0" y1="1143.7" x2="0" y2="1263.7"><stop offset="0" stop-color="#000000"/><stop offset="0.05" stop-color="#000000"/><stop offset="0.1" stop-color="#010101"/><stop offset="0.15" stop-color="#020202"/><stop offset="0.2" stop-color="#030303"/><stop offset="0.25" stop-color="#050505"/><stop offset="0.3" stop-color="#070707"/><stop offset="0.35" stop-color="#0a0a0a"/><stop offset="0.4" stop-color="#0c0c0c"/><stop offset="0.45" stop-color="#0e0e0e"/><stop offset="0.5" stop-color="#0f0f0f"/><stop offset="0.55" stop-color="#0e0e0e"/><stop offset="0.6" stop-color="#0c0c0c"/><stop offset="0.65" stop-color="#0a0a0a"/><stop offset="0.7" stop-color="#070707"/><stop offset="0.75" stop-color="#050505"/><stop offset="0.8" stop-color="#030303"/><stop offset="0.85" stop-color="#020202"/><stop offset="0.9" stop-color="#010101"/><stop offset="0.95" stop-color="#000000"/><stop offset="1" stop-color="#000000"/></linearGradient>
<linearGradient id="z2_30" gradientUnits="userSpaceOnUse" x1="0" y1="1143.7" x2="0" y2="1263.7"><stop offset="0" stop-color="#000000"/><stop offset="0.05" stop-color="#000000"/><stop offset="0.1" stop-color="#010101"/><stop offset="0.15" stop-color="#010101"/><stop offset="0.2" stop-color="#020202"/><stop offset="0.25" stop-color="#030303"/><stop offset="0.3" stop-color="#050505"/><stop offset="0.35" stop-color="#070707"/><stop offset="0.4" stop-color="#090909"/><stop offset="0.45" stop-color="#0a0a0a"/><stop offset="0.5" stop-color="#0b0b0b"/><stop offset="0.55" stop-color="#0a0a0a"/><stop offset="0.6" stop-color="#090909"/><stop offset="0.65" stop-color="#070707"/><stop offset="0.7" stop-color="#050505"/><stop offset="0.75" stop-color="#030303"/><stop offset="0.8" stop-color="#020202"/><stop offset="0.85" stop-color="#010101"/><stop offset="0.9" stop-color="#010101"/><stop offset="0.95" stop-color="#000000"/><stop offset="1" stop-color="#000000"/></linearGradient>
<radialGradient id="xy3" gradientUnits="userSpaceOnUse" cx="117.2" cy="1653.3" r="60"><stop offset="0" stop-color="rgb(255,255,255)"/><stop offset="0.03" stop-color="rgb(254,254,254)"/><stop offset="0.06" stop-color="rgb(250,250,250)"/><stop offset="0.09" stop-color="rgb(243,243,243)"/><stop offset="0.12" stop-color="rgb(234,234,234)"/><stop offset="0.15" stop-color="rgb(223,223,223)"/><stop offset="0.18" stop-color="rgb(210,210,210)"/><stop offset="0.21" stop-color="rgb(195,195,195)"/><stop offset="0.24" stop-color="rgb(180,180,180)"/><stop offset="0.27" stop-color="rgb(165,165,165)"/><stop offset="0.3" stop-color="rgb(149,149,149)"/><stop offset="0.33" stop-color="rgb(133,133,133)"/><stop offset="0.36" stop-color="rgb(118,118,118)"/><stop offset="0.39" stop-color="rgb(103,103,103)"/><stop offset="0.42" stop-color="rgb(89,89,89)"/><stop offset="0.45" stop-color="rgb(77,77,77)"/><stop offset="0.48" stop-color="rgb(65,65,65)"/><stop offset="0.52" stop-color="rgb(55,55,55)"/><stop offset="0.55" stop-color="rgb(46,46,46)"/><stop offset="0.58" stop-color="rgb(38,38,38)"/><stop offset="0.61" stop-color="rgb(31,31,31)"/><stop offset="0.64" stop-color="rgb(25,25,25)"/><stop offset="0.67" stop-color="rgb(20,20,20)"/><stop offset="0.7" stop-color="rgb(16,16,16)"/><stop offset="0.73" stop-color="rgb(13,13,13)"/><stop offset="0.76" stop-color="rgb(10,10,10)"/><stop offset="0.79" stop-color="rgb(8,8,8)"/><stop offset="0.82" stop-color="rgb(6,6,6)"/><stop offset="0.85" stop-color="rgb(4,4,4)"/><stop offset="0.88" stop-color="rgb(3,3,3)"/><stop offset="0.91" stop-color="rgb(2,2,2)"/><stop offset="0.94" stop-color="rgb(1,1,1)"/><stop offset="0.97" stop-color="rgb(1,1,1)"/><stop offset="1" stop-color="rgb(0,0,0)"/></radialGradient>
<linearGradient id="z3_3" gradientUnits="userSpaceOnUse" x1="0" y1="1591.8" x2="0" y2="1711.8"><stop offset="0" stop-color="#000000"/><stop offset="0.05" stop-color="#000000"/><stop offset="0.1" stop-color="#010101"/><stop offset="0.15" stop-color="#010101"/><stop offset="0.2" stop-color="#020202"/><stop offset="0.25" stop-color="#030303"/><stop offset="0.3" stop-color="#050505"/><stop offset="0.35" stop-color="#070707"/><stop offset="0.4" stop-color="#080808"/><stop offset="0.45" stop-color="#0a0a0a"/><stop offset="0.5" stop-color="#0a0a0a"/><stop offset="0.55" stop-color="#0a0a0a"/><stop offset="0.6" stop-color="#080808"/><stop offset="0.65" stop-color="#070707"/><stop offset="0.7" stop-color="#050505"/><stop offset="0.75" stop-color="#030303"/><stop offset="0.8" stop-color="#020202"/><stop offset="0.85" stop-color="#010101"/><stop offset="0.9" stop-color="#010101"/><stop offset="0.95" stop-color="#000000"/><stop offset="1" stop-color="#000000"/></linearGradient>
<linearGradient id="z3_4" gradientUnits="userSpaceOnUse" x1="0" y1="1591.8" x2="0" y2="1711.8"><stop offset="0" stop-color="#000000"/><stop offset="0.05" stop-color="#000000"/><stop offset="0.1" stop-color="#010101"/><stop offset="0.15" stop-color="#020202"/><stop offset="0.2" stop-color="#030303"/><stop offset="0.25" stop-color="#050505"/><stop offset="0.3" stop-color="#070707"/><stop offset="0.35" stop-color="#090909"/><stop offset="0.4" stop-color="#0c0c0c"/><stop offset="0.45" stop-color="#0e0e0e"/><stop offset="0.5" stop-color="#0e0e0e"/><stop offset="0.55" stop-color="#0e0e0e"/><stop offset="0.6" stop-color="#0c0c0c"/><stop offset="0.65" stop-color="#090909"/><stop offset="0.7" stop-color="#070707"/><stop offset="0.75" stop-color="#050505"/><stop offset="0.8" stop-color="#030303"/><stop offset="0.85" stop-color="#020202"/><stop offset="0.9" stop-color="#010101"/><stop offset="0.95" stop-color="#000000"/><stop offset="1" stop-color="#000000"/></linearGradient>
<linearGradient id="z3_5" gradientUnits="userSpaceOnUse" x1="0" y1="1591.8" x2="0" y2="1711.8"><stop offset="0" stop-color="#000000"/><stop offset="0.05" stop-color="#010101"/><stop offset="0.1" stop-color="#010101"/><stop offset="0.15" stop-color="#020202"/><stop offset="0.2" stop-color="#040404"/><stop offset="0.25" stop-color="#060606"/><stop offset="0.3" stop-color="#0a0a0a"/><stop offset="0.35" stop-color="#0d0d0d"/><stop offset="0.4" stop-color="#111111"/><stop offset="0.45" stop-color="#131313"/><stop offset="0.5" stop-color="#141414"/><stop offset="0.55" stop-color="#131313"/><stop offset="0.6" stop-color="#111111"/><stop offset="0.65" stop-color="#0d0d0d"/><stop offset="0.7" stop-color="#0a0a0a"/><stop offset="0.75" stop-color="#060606"/><stop offset="0.8" stop-color="#040404"/><stop offset="0.85" stop-color="#020202"/><stop offset="0.9" stop-color="#010101"/><stop offset="0.95" stop-color="#010101"/><stop offset="1" stop-color="#000000"/></linearGradient>
<linearGradient id="z3_6" gradientUnits="userSpaceOnUse" x1="0" y1="1591.8" x2="0" y2="1711.8"><stop offset="0" stop-color="#000000"/><stop offset="0.05" stop-color="#010101"/><stop offset="0.1" stop-color="#020202"/><stop offset="0.15" stop-color="#030303"/><stop offset="0.2" stop-color="#050505"/><stop offset="0.25" stop-color="#090909"/><stop offset="0.3" stop-color="#0e0e0e"/><stop offset="0.35" stop-color="#131313"/><stop offset="0.4" stop-color="#171717"/><stop offset="0.45" stop-color="#1b1b1b"/><stop offset="0.5" stop-color="#1c1c1c"/><stop offset="0.55" stop-color="#1b1b1b"/><stop offset="0.6" stop-color="#171717"/><stop offset="0.65" stop-color="#131313"/><stop offset="0.7" stop-color="#0e0e0e"/><stop offset="0.75" stop-color="#090909"/><stop offset="0.8" stop-color="#050505"/><stop offset="0.85" stop-color="#030303"/><stop offset="0.9" stop-color="#020202"/><stop offset="0.95" stop-color="#010101"/><stop offset="1" stop-color="#000000"/></linearGradient>
<linearGradient id="z3_7" gradientUnits="userSpaceOnUse" x1="0" y1="1591.8" x2="0" y2="1711.8"><stop offset="0" stop-color="#000000"/><stop offset="0.05" stop-color="#010101"/><stop offset="0.1" stop-color="#020202"/><stop offset="0.15" stop-color="#040404"/><stop offset="0.2" stop-color="#080808"/><stop offset="0.25" stop-color="#0d0d0d"/><stop offset="0.3" stop-color="#131313"/><stop offset="0.35" stop-color="#1a1a1a"/><stop offset="0.4" stop-color="#212121"/><stop offset="0.45" stop-color="#252525"/><stop offset="0.5" stop-color="#272727"/><stop offset="0.55" stop-color="#252525"/><stop offset="0.6" stop-color="#212121"/><stop offset="0.65" stop-color="#1a1a1a"/><stop offset="0.7" stop-color="#131313"/><stop offset="0.75" stop-color="#0d0d0d"/><stop offset="0.8" stop-color="#080808"/><stop offset="0.85" stop-color="#040404"/><stop offset="0.9" stop-color="#020202"/><stop offset="0.95" stop-color="#010101"/><stop offset="1" stop-color="#000000"/></linearGradient>
<linearGradient id="z3_8" gradientUnits="userSpaceOnUse" x1="0" y1="1591.8" x2="0" y2="1711.8"><stop offset="0" stop-color="#000000"/><stop offset="0.05" stop-color="#010101"/><stop offset="0.1" stop-color="#030303"/><stop offset="0.15" stop-color="#060606"/><stop offset="0.2" stop-color="#0b0b0b"/><stop offset="0.25" stop-color="#121212"/><stop offset="0.3" stop-color="#1a1a1a"/><stop offset="0.35" stop-color="#242424"/><stop offset="0.4" stop-color="#2d2d2d"/><stop offset="0.45" stop-color="#343434"/><stop offset="0.5" stop-color="#363636"/><stop offset="0.55" stop-color="#343434"/><stop offset="0.6" stop-color="#2d2d2d"/><stop offset="0.65" stop-color="#242424"/><stop offset="0.7" stop-color="#1a1a1a"/><stop offset="0.75" stop-color="#121212"/><stop offset="0.8" stop-color="#0b0b0b"/><stop offset="0.85" stop-color="#060606"/><stop offset="0.9" stop-color="#030303"/><stop offset="0.95" stop-color="#010101"/><stop offset="1" stop-color="#000000"/></linearGradient>
<linearGradient id="z3_9" gradientUnits="userSpaceOnUse" x1="0" y1="1591.8" x2="0" y2="1711.8"><stop offset="0" stop-color="#000000"/><stop offset="0.05" stop-color="#020202"/><stop offset="0.1" stop-color="#040404"/><stop offset="0.15" stop-color="#080808"/><stop offset="0.2" stop-color="#0f0f0f"/><stop offset="0.25" stop-color="#181818"/><stop offset="0.3" stop-color="#252525"/><stop offset="0.35" stop-color="#323232"/><stop offset="0.4" stop-color="#3f3f3f"/><stop offset="0.45" stop-color="#484848"/><stop offset="0.5" stop-color="#4b4b4b"/><stop offset="0.55" stop-color="#484848"/><stop offset="0.6" stop-color="#3f3f3f"/><stop offset="0.65" stop-color="#323232"/><stop offset="0.7" stop-color="#252525"/><stop offset="0.75" stop-color="#181818"/><stop offset="0.8" stop-color="#0f0f0f"/><stop offset="0.85" stop-color="#080808"/><stop offset="0.9" stop-color="#040404"/><stop offset="0.95" stop-color="#020202"/><stop offset="1" stop-color="#000000"/></linearGradient>
<linearGradient id="z3_10" gradientUnits="userSpaceOnUse" x1="0" y1="1591.8" x2="0" y2="1711.8"><stop offset="0" stop-color="#000000"/><stop offset="0.05" stop-color="#030303"/><stop offset="0.1" stop-color="#060606"/><stop offset="0.15" stop-color="#0b0b0b"/><stop offset="0.2" stop-color="#141414"/><stop offset="0.25" stop-color="#212121"/><stop offset="0.3" stop-color="#313131"/><stop offset="0.35" stop-color="#444444"/><stop offset="0.4" stop-color="#555555"/><stop offset="0.45" stop-color="#616161"/><stop offset="0.5" stop-color="#666666"/><stop offset="0.55" stop-color="#616161"/><stop offset="0.6" stop-color="#555555"/><stop offset="0.65" stop-color="#444444"/><stop offset="0.7" stop-color="#313131"/><stop offset="0.75" stop-color="#212121"/><stop offset="0.8" stop-color="#141414"/><stop offset="0.85" stop-color="#0b0b0b"/><stop offset="0.9" stop-color="#060606"/><stop offset="0.95" stop-color="#030303"/><stop offset="1" stop-color="#000000"/></linearGradient>
<linearGradient id="z3_11" gradientUnits="userSpaceOnUse" x1="0" y1="1591.8" x2="0" y2="1711.8"><stop offset="0" stop-color="#000000"/><stop offset="0.05" stop-color="#030303"/><stop offset="0.1" stop-color="#080808"/><stop offset="0.15" stop-color="#0f0f0f"/><stop offset="0.2" stop-color="#1a1a1a"/><stop offset="0.25" stop-color="#2b2b2b"/><stop offset="0.3" stop-color="#414141"/><stop offset="0.35" stop-color="#595959"/><stop offset="0.4" stop-color="#707070"/><stop offset="0.45" stop-color="#808080"/><stop offset="0.5" stop-color="#868686"/><stop offset="0.55" stop-color="#808080"/><stop offset="0.6" stop-color="#707070"/><stop offset="0.65" stop-color="#595959"/><stop offset="0.7" stop-color="#414141"/><stop offset="0.75" stop-color="#2b2b2b"/><stop offset="0.8" stop-color="#1a1a1a"/><stop offset="0.85" stop-color="#0f0f0f"/><stop offset="0.9" stop-color="#080808"/><stop offset="0.95" stop-color="#030303"/><stop offset="1" stop-color="#000000"/></linearGradient>
<linearGradient id="z3_12" gradientUnits="userSpaceOnUse" x1="0" y1="1591.8" x2="0" y2="1711.8"><stop offset="0" stop-color="#000000"/><stop offset="0.05" stop-color="#040404"/><stop offset="0.1" stop-color="#0a0a0a"/><stop offset="0.15" stop-color="#131313"/><stop offset="0.2" stop-color="#222222"/><stop offset="0.25" stop-color="#373737"/><stop offset="0.3" stop-color="#535353"/><stop offset="0.35" stop-color="#717171"/><stop offset="0.4" stop-color="#8e8e8e"/><stop offset="0.45" stop-color="#a2a2a2"/><stop offset="0.5" stop-color="#aaaaaa"/><stop offset="0.55" stop-color="#a2a2a2"/><stop offset="0.6" stop-color="#8e8e8e"/><stop offset="0.65" stop-color="#717171"/><stop offset="0.7" stop-color="#535353"/><stop offset="0.75" stop-color="#373737"/><stop offset="0.8" stop-color="#222222"/><stop offset="0.85" stop-color="#131313"/><stop offset="0.9" stop-color="#0a0a0a"/><stop offset="0.95" stop-color="#040404"/><stop offset="1" stop-color="#000000"/></linearGradient>
<linearGradient id="z3_13" gradientUnits="userSpaceOnUse" x1="0" y1="1591.8" x2="0" y2="1711.8"><stop offset="0" stop-color="#000000"/><stop offset="0.05" stop-color="#050505"/><stop offset="0.1" stop-color="#0c0c0c"/><stop offset="0.15" stop-color="#171717"/><stop offset="0.2" stop-color="#292929"/><stop offset="0.25" stop-color="#434343"/><stop offset="0.3" stop-color="#656565"/><stop offset="0.35" stop-color="#8a8a8a"/><stop offset="0.4" stop-color="#adadad"/><stop offset="0.45" stop-color="#c6c6c6"/><stop offset="0.5" stop-color="#cfcfcf"/><stop offset="0.55" stop-color="#c6c6c6"/><stop offset="0.6" stop-color="#adadad"/><stop offset="0.65" stop-color="#8a8a8a"/><stop offset="0.7" stop-color="#656565"/><stop offset="0.75" stop-color="#434343"/><stop offset="0.8" stop-color="#292929"/><stop offset="0.85" stop-color="#171717"/><stop offset="0.9" stop-color="#0c0c0c"/><stop offset="0.95" stop-color="#050505"/><stop offset="1" stop-color="#000000"/></linearGradient>
<linearGradient id="z3_14" gradientUnits="userSpaceOnUse" x1="0" y1="1591.8" x2="0" y2="1711.8"><stop offset="0" stop-color="#000000"/><stop offset="0.05" stop-color="#060606"/><stop offset="0.1" stop-color="#0e0e0e"/><stop offset="0.15" stop-color="#1b1b1b"/><stop offset="0.2" stop-color="#303030"/><stop offset="0.25" stop-color="#4e4e4e"/><stop offset="0.3" stop-color="#767676"/><stop offset="0.35" stop-color="#a1a1a1"/><stop offset="0.4" stop-color="#cacaca"/><stop offset="0.45" stop-color="#e7e7e7"/><stop offset="0.5" stop-color="#f2f2f2"/><stop offset="0.55" stop-color="#e7e7e7"/><stop offset="0.6" stop-color="#cacaca"/><stop offset="0.65" stop-color="#a1a1a1"/><stop offset="0.7" stop-color="#767676"/><stop offset="0.75" stop-color="#4e4e4e"/><stop offset="0.8" stop-color="#303030"/><stop offset="0.85" stop-color="#1b1b1b"/><stop offset="0.9" stop-color="#0e0e0e"/><stop offset="0.95" stop-color="#060606"/><stop offset="1" stop-color="#000000"/></linearGradient>
<linearGradient id="z3_15" gradientUnits="userSpaceOnUse" x1="0" y1="1591.8" x2="0" y2="1711.8"><stop offset="0" stop-color="#000000"/><stop offset="0.05" stop-color="#070707"/><stop offset="0.1" stop-color="#0f0f0f"/><stop offset="0.15" stop-color="#1e1e1e"/><stop offset="0.2" stop-color="#353535"/><stop offset="0.25" stop-color="#575757"/><stop offset="0.3" stop-color="#838383"/><stop offset="0.35" stop-color="#b3b3b3"/><stop offset="0.4" stop-color="#e0e0e0"/><stop offset="0.45" stop-color="#ffffff"/><stop offset="0.5" stop-color="#ffffff"/><stop offset="0.55" stop-color="#ffffff"/><stop offset="0.6" stop-color="#e0e0e0"/><stop offset="0.65" stop-color="#b3b3b3"/><stop offset="0.7" stop-color="#838383"/><stop offset="0.75" stop-color="#575757"/><stop offset="0.8" stop-color="#353535"/><stop offset="0.85" stop-color="#1e1e1e"/><stop offset="0.9" stop-color="#0f0f0f"/><stop offset="0.95" stop-color="#070707"/><stop offset="1" stop-color="#000000"/></linearGradient>
<linearGradient id="z3_16" gradientUnits="userSpaceOnUse" x1="0" y1="1591.8" x2="0" y2="1711.8"><stop offset="0" stop-color="#000000"/><stop offset="0.05" stop-color="#070707"/><stop offset="0.1" stop-color="#101010"/><stop offset="0.15" stop-color="#1f1f1f"/><stop offset="0.2" stop-color="#383838"/><stop offset="0.25" stop-color="#5c5c5c"/><stop offset="0.3" stop-color="#8a8a8a"/><stop offset="0.35" stop-color="#bdbdbd"/><stop offset="0.4" stop-color="#ededed"/><stop offset="0.45" stop-color="#ffffff"/><stop offset="0.5" stop-color="#ffffff"/><stop offset="0.55" stop-color="#ffffff"/><stop offset="0.6" stop-color="#ededed"/><stop offset="0.65" stop-color="#bdbdbd"/><stop offset="0.7" stop-color="#8a8a8a"/><stop offset="0.75" stop-color="#5c5c5c"/><stop offset="0.8" stop-color="#383838"/><stop offset="0.85" stop-color="#1f1f1f"/><stop offset="0.9" stop-color="#101010"/><stop offset="0.95" stop-color="#070707"/><stop offset="1" stop-color="#000000"/></linearGradient>
<linearGradient id="z3_17" gradientUnits="userSpaceOnUse" x1="0" y1="1591.8" x2="0" y2="1711.8"><stop offset="0" stop-color="#000000"/><stop offset="0.05" stop-color="#070707"/><stop offset="0.1" stop-color="#101010"/><stop offset="0.15" stop-color="#1f1f1f"/><stop offset="0.2" stop-color="#383838"/><stop offset="0.25" stop-color="#5c5c5c"/><stop offset="0.3" stop-color="#8a8a8a"/><stop offset="0.35" stop-color="#bebebe"/><stop offset="0.4" stop-color="#ededed"/><stop offset="0.45" stop-color="#ffffff"/><stop offset="0.5" stop-color="#ffffff"/><stop offset="0.55" stop-color="#ffffff"/><stop offset="0.6" stop-color="#ededed"/><stop offset="0.65" stop-color="#bebebe"/><stop offset="0.7" stop-color="#8a8a8a"/><stop offset="0.75" stop-color="#5c5c5c"/><stop offset="0.8" stop-color="#383838"/><stop offset="0.85" stop-color="#1f1f1f"/><stop offset="0.9" stop-color="#101010"/><stop offset="0.95" stop-color="#070707"/><stop offset="1" stop-color="#000000"/></linearGradient>
<linearGradient id="z3_18" gradientUnits="userSpaceOnUse" x1="0" y1="1591.8" x2="0" y2="1711.8"><stop offset="0" stop-color="#000000"/><stop offset="0.05" stop-color="#070707"/><stop offset="0.1" stop-color="#0f0f0f"/><stop offset="0.15" stop-color="#1e1e1e"/><stop offset="0.2" stop-color="#363636"/><stop offset="0.25" stop-color="#585858"/><stop offset="0.3" stop-color="#848484"/><stop offset="0.35" stop-color="#b5b5b5"/><stop offset="0.4" stop-color="#e2e2e2"/><stop offset="0.45" stop-color="#ffffff"/><stop offset="0.5" stop-color="#ffffff"/><stop offset="0.55" stop-color="#ffffff"/><stop offset="0.6" stop-color="#e2e2e2"/><stop offset="0.65" stop-color="#b5b5b5"/><stop offset="0.7" stop-color="#848484"/><stop offset="0.75" stop-color="#585858"/><stop offset="0.8" stop-color="#363636"/><stop offset="0.85" stop-color="#1e1e1e"/><stop offset="0.9" stop-color="#0f0f0f"/><stop offset="0.95" stop-color="#070707"/><stop offset="1" stop-color="#000000"/></linearGradient>
<linearGradient id="z3_19" gradientUnits="userSpaceOnUse" x1="0" y1="1591.8" x2="0" y2="1711.8"><stop offset="0" stop-color="#000000"/><stop offset="0.05" stop-color="#060606"/><stop offset="0.1" stop-color="#0e0e0e"/><stop offset="0.15" stop-color="#1b1b1b"/><stop offset="0.2" stop-color="#313131"/><stop offset="0.25" stop-color="#505050"/><stop offset="0.3" stop-color="#777777"/><stop offset="0.35" stop-color="#a4a4a4"/><stop offset="0.4" stop-color="#cdcdcd"/><stop offset="0.45" stop-color="#eaeaea"/><stop offset="0.5" stop-color="#f5f5f5"/><stop offset="0.55" stop-color="#eaeaea"/><stop offset="0.6" stop-color="#cdcdcd"/><stop offset="0.65" stop-color="#a4a4a4"/><stop offset="0.7" stop-color="#777777"/><stop offset="0.75" stop-color="#505050"/><stop offset="0.8" stop-color="#313131"/><stop offset="0.85" stop-color="#1b1b1b"/><stop offset="0.9" stop-color="#0e0e0e"/><stop offset="0.95" stop-color="#060606"/><stop offset="1" stop-color="#000000"/></linearGradient>
<linearGradient id="z3_20" gradientUnits="userSpaceOnUse" x1="0" y1="1591.8" x2="0" y2="1711.8"><stop offset="0" stop-color="#000000"/><stop offset="0.05" stop-color="#060606"/><stop offset="0.1" stop-color="#0c0c0c"/><stop offset="0.15" stop-color="#171717"/><stop offset="0.2" stop-color="#2a2a2a"/><stop offset="0.25" stop-color="#454545"/><stop offset="0.3" stop-color="#676767"/><stop offset="0.35" stop-color="#8d8d8d"/><stop offset="0.4" stop-color="#b1b1b1"/><stop offset="0.45" stop-color="#cacaca"/><stop offset="0.5" stop-color="#d4d4d4"/><stop offset="0.55" stop-color="#cacaca"/><stop offset="0.6" stop-color="#b1b1b1"/><stop offset="0.65" stop-color="#8d8d8d"/><stop offset="0.7" stop-color="#676767"/><stop offset="0.75" stop-color="#454545"/><stop offset="0.8" stop-color="#2a2a2a"/><stop offset="0.85" stop-color="#171717"/><stop offset="0.9" stop-color="#0c0c0c"/><stop offset="0.95" stop-color="#060606"/><stop offset="1" stop-color="#000000"/></linearGradient>
<linearGradient id="z3_21" gradientUnits="userSpaceOnUse" x1="0" y1="1591.8" x2="0" y2="1711.8"><stop offset="0" stop-color="#000000"/><stop offset="0.05" stop-color="#050505"/><stop offset="0.1" stop-color="#0a0a0a"/><stop offset="0.15" stop-color="#131313"/><stop offset="0.2" stop-color="#222222"/><stop offset="0.25" stop-color="#393939"/><stop offset="0.3" stop-color="#555555"/><stop offset="0.35" stop-color="#747474"/><stop offset="0.4" stop-color="#929292"/><stop offset="0.45" stop-color="#a7a7a7"/><stop offset="0.5" stop-color="#aeaeae"/><stop offset="0.55" stop-color="#a7a7a7"/><stop offset="0.6" stop-color="#929292"/><stop offset="0.65" stop-color="#747474"/><stop offset="0.7" stop-color="#555555"/><stop offset="0.75" stop-color="#393939"/><stop offset="0.8" stop-color="#222222"/><stop offset="0.85" stop-color="#131313"/><stop offset="0.9" stop-color="#0a0a0a"/><stop offset="0.95" stop-color="#050505"/><stop offset="1" stop-color="#000000"/></linearGradient>
<linearGradient id="z3_22" gradientUnits="userSpaceOnUse" x1="0" y1="1591.8" x2="0" y2="1711.8"><stop offset="0" stop-color="#000000"/><stop offset="0.05" stop-color="#040404"/><stop offset="0.1" stop-color="#080808"/><stop offset="0.15" stop-color="#0f0f0f"/><stop offset="0.2" stop-color="#1b1b1b"/><stop offset="0.25" stop-color="#2d2d2d"/><stop offset="0.3" stop-color="#434343"/><stop offset="0.35" stop-color="#5c5c5c"/><stop offset="0.4" stop-color="#737373"/><stop offset="0.45" stop-color="#848484"/><stop offset="0.5" stop-color="#8a8a8a"/><stop offset="0.55" stop-color="#848484"/><stop offset="0.6" stop-color="#737373"/><stop offset="0.65" stop-color="#5c5c5c"/><stop offset="0.7" stop-color="#434343"/><stop offset="0.75" stop-color="#2d2d2d"/><stop offset="0.8" stop-color="#1b1b1b"/><stop offset="0.85" stop-color="#0f0f0f"/><stop offset="0.9" stop-color="#080808"/><stop offset="0.95" stop-color="#040404"/><stop offset="1" stop-color="#000000"/></linearGradient>
<linearGradient id="z3_23" gradientUnits="userSpaceOnUse" x1="0" y1="1591.8" x2="0" y2="1711.8"><stop offset="0" stop-color="#000000"/><stop offset="0.05" stop-color="#030303"/><stop offset="0.1" stop-color="#060606"/><stop offset="0.15" stop-color="#0c0c0c"/><stop offset="0.2" stop-color="#151515"/><stop offset="0.25" stop-color="#222222"/><stop offset="0.3" stop-color="#333333"/><stop offset="0.35" stop-color="#464646"/><stop offset="0.4" stop-color="#585858"/><stop offset="0.45" stop-color="#646464"/><stop offset="0.5" stop-color="#696969"/><stop offset="0.55" stop-color="#646464"/><stop offset="0.6" stop-color="#585858"/><stop offset="0.65" stop-color="#464646"/><stop offset="0.7" stop-color="#333333"/><stop offset="0.75" stop-color="#222222"/><stop offset="0.8" stop-color="#151515"/><stop offset="0.85" stop-color="#0c0c0c"/><stop offset="0.9" stop-color="#060606"/><stop offset="0.95" stop-color="#030303"/><stop offset="1" stop-color="#000000"/></linearGradient>
<linearGradient id="z3_24" gradientUnits="userSpaceOnUse" x1="0" y1="1591.8" x2="0" y2="1711.8"><stop offset="0" stop-color="#000000"/><stop offset="0.05" stop-color="#020202"/><stop offset="0.1" stop-color="#040404"/><stop offset="0.15" stop-color="#090909"/><stop offset="0.2" stop-color="#0f0f0f"/><stop offset="0.25" stop-color="#191919"/><stop offset="0.3" stop-color="#262626"/><stop offset="0.35" stop-color="#343434"/><stop offset="0.4" stop-color="#414141"/><stop offset="0.45" stop-color="#4a4a4a"/><stop offset="0.5" stop-color="#4e4e4e"/><stop offset="0.55" stop-color="#4a4a4a"/><stop offset="0.6" stop-color="#414141"/><stop offset="0.65" stop-color="#343434"/><stop offset="0.7" stop-color="#262626"/><stop offset="0.75" stop-color="#191919"/><stop offset="0.8" stop-color="#0f0f0f"/><stop offset="0.85" stop-color="#090909"/><stop offset="0.9" stop-color="#040404"/><stop offset="0.95" stop-color="#020202"/><stop offset="1" stop-color="#000000"/></linearGradient>
<linearGradient id="z3_25" gradientUnits="userSpaceOnUse" x1="0" y1="1591.8" x2="0" y2="1711.8"><stop offset="0" stop-color="#000000"/><stop offset="0.05" stop-color="#010101"/><stop offset="0.1" stop-color="#030303"/><stop offset="0.15" stop-color="#060606"/><stop offset="0.2" stop-color="#0b0b0b"/><stop offset="0.25" stop-color="#121212"/><stop offset="0.3" stop-color="#1c1c1c"/><stop offset="0.35" stop-color="#262626"/><stop offset="0.4" stop-color="#2f2f2f"/><stop offset="0.45" stop-color="#363636"/><stop offset="0.5" stop-color="#383838"/><stop offset="0.55" stop-color="#363636"/><stop offset="0.6" stop-color="#2f2f2f"/><stop offset="0.65" stop-color="#262626"/><stop offset="0.7" stop-color="#1c1c1c"/><stop offset="0.75" stop-color="#121212"/><stop offset="0.8" stop-color="#0b0b0b"/><stop offset="0.85" stop-color="#060606"/><stop offset="0.9" stop-color="#030303"/><stop offset="0.95" stop-color="#010101"/><stop offset="1" stop-color="#000000"/></linearGradient>
<linearGradient id="z3_26" gradientUnits="userSpaceOnUse" x1="0" y1="1591.8" x2="0" y2="1711.8"><stop offset="0" stop-color="#000000"/><stop offset="0.05" stop-color="#010101"/><stop offset="0.1" stop-color="#020202"/><stop offset="0.15" stop-color="#040404"/><stop offset="0.2" stop-color="#080808"/><stop offset="0.25" stop-color="#0d0d0d"/><stop offset="0.3" stop-color="#141414"/><stop offset="0.35" stop-color="#1b1b1b"/><stop offset="0.4" stop-color="#222222"/><stop offset="0.45" stop-color="#272727"/><stop offset="0.5" stop-color="#292929"/><stop offset="0.55" stop-color="#272727"/><stop offset="0.6" stop-color="#222222"/><stop offset="0.65" stop-color="#1b1b1b"/><stop offset="0.7" stop-color="#141414"/><stop offset="0.75" stop-color="#0d0d0d"/><stop offset="0.8" stop-color="#080808"/><stop offset="0.85" stop-color="#040404"/><stop offset="0.9" stop-color="#020202"/><stop offset="0.95" stop-color="#010101"/><stop offset="1" stop-color="#000000"/></linearGradient>
<linearGradient id="z3_27" gradientUnits="userSpaceOnUse" x1="0" y1="1591.8" x2="0" y2="1711.8"><stop offset="0" stop-color="#000000"/><stop offset="0.05" stop-color="#010101"/><stop offset="0.1" stop-color="#020202"/><stop offset="0.15" stop-color="#030303"/><stop offset="0.2" stop-color="#060606"/><stop offset="0.25" stop-color="#090909"/><stop offset="0.3" stop-color="#0e0e0e"/><stop offset="0.35" stop-color="#131313"/><stop offset="0.4" stop-color="#181818"/><stop offset="0.45" stop-color="#1c1c1c"/><stop offset="0.5" stop-color="#1d1d1d"/><stop offset="0.55" stop-color="#1c1c1c"/><stop offset="0.6" stop-color="#181818"/><stop offset="0.65" stop-color="#131313"/><stop offset="0.7" stop-color="#0e0e0e"/><stop offset="0.75" stop-color="#090909"/><stop offset="0.8" stop-color="#060606"/><stop offset="0.85" stop-color="#030303"/><stop offset="0.9" stop-color="#020202"/><stop offset="0.95" stop-color="#010101"/><stop offset="1" stop-color="#000000"/></linearGradient>
<linearGradient id="z3_28" gradientUnits="userSpaceOnUse" x1="0" y1="1591.8" x2="0" y2="1711.8"><stop offset="0" stop-color="#000000"/><stop offset="0.05" stop-color="#010101"/><stop offset="0.1" stop-color="#010101"/><stop offset="0.15" stop-color="#020202"/><stop offset="0.2" stop-color="#040404"/><stop offset="0.25" stop-color="#070707"/><stop offset="0.3" stop-color="#0a0a0a"/><stop offset="0.35" stop-color="#0e0e0e"/><stop offset="0.4" stop-color="#111111"/><stop offset="0.45" stop-color="#141414"/><stop offset="0.5" stop-color="#151515"/><stop offset="0.55" stop-color="#141414"/><stop offset="0.6" stop-color="#111111"/><stop offset="0.65" stop-color="#0e0e0e"/><stop offset="0.7" stop-color="#0a0a0a"/><stop offset="0.75" stop-color="#070707"/><stop offset="0.8" stop-color="#040404"/><stop offset="0.85" stop-color="#020202"/><stop offset="0.9" stop-color="#010101"/><stop offset="0.95" stop-color="#010101"/><stop offset="1" stop-color="#000000"/></linearGradient>
<linearGradient id="z3_29" gradientUnits="userSpaceOnUse" x1="0" y1="1591.8" x2="0" y2="1711.8"><stop offset="0" stop-color="#000000"/><stop offset="0.05" stop-color="#000000"/><stop offset="0.1" stop-color="#010101"/><stop offset="0.15" stop-color="#020202"/><stop offset="0.2" stop-color="#030303"/><stop offset="0.25" stop-color="#050505"/><stop offset="0.3" stop-color="#070707"/><stop offset="0.35" stop-color="#0a0a0a"/><stop offset="0.4" stop-color="#0c0c0c"/><stop offset="0.45" stop-color="#0e0e0e"/><stop offset="0.5" stop-color="#0f0f0f"/><stop offset="0.55" stop-color="#0e0e0e"/><stop offset="0.6" stop-color="#0c0c0c"/><stop offset="0.65" stop-color="#0a0a0a"/><stop offset="0.7" stop-color="#070707"/><stop offset="0.75" stop-color="#050505"/><stop offset="0.8" stop-color="#030303"/><stop offset="0.85" stop-color="#020202"/><stop offset="0.9" stop-color="#010101"/><stop offset="0.95" stop-color="#000000"/><stop offset="1" stop-color="#000000"/></linearGradient>
<linearGradient id="z3_30" gradientUnits="userSpaceOnUse" x1="0" y1="1591.8" x2="0" y2="1711.8"><stop offset="0" stop-color="#000000"/><stop offset="0.05" stop-color="#000000"/><stop offset="0.1" stop-color="#010101"/><stop offset="0.15" stop-color="#010101"/><stop offset="0.2" stop-color="#020202"/><stop offset="0.25" stop-color="#030303"/><stop offset="0.3" stop-color="#050505"/><stop offset="0.35" stop-color="#070707"/><stop offset="0.4" stop-color="#090909"/><stop offset="0.45" stop-color="#0a0a0a"/><stop offset="0.5" stop-color="#0b0b0b"/><stop offset="0.55" stop-color="#0a0a0a"/><stop offset="0.6" stop-color="#090909"/><stop offset="0.65" stop-color="#070707"/><stop offset="0.7" stop-color="#050505"/><stop offset="0.75" stop-color="#030303"/><stop offset="0.8" stop-color="#020202"/><stop offset="0.85" stop-color="#010101"/><stop offset="0.9" stop-color="#010101"/><stop offset="0.95" stop-color="#000000"/><stop offset="1" stop-color="#000000"/></linearGradient>
</defs>
<rect width="2106" height="1864" fill="#fff"/>
<text x="596.8" y="35.7" font-size="41.67" text-anchor="start">Simulated Point Spread Function (λ =1040nm)</text>
<text x="1.1" y="131.5" font-size="29.17" text-anchor="start">Scan angle = 0°</text>
<text x="117" y="190.5" font-size="29.17" text-anchor="middle">XY view</text>
<rect x="2.6" y="200.5" width="229.4" height="229" fill="#000"/>
<circle cx="116.4" cy="314.4" r="60" fill="url(#xy0)"/>
<rect x="146.4" y="440.2" width="48.6" height="3.6" fill="#000"/>
<text x="131" y="474.4" font-size="29.17" text-anchor="start">1 μm</text>
<rect x="404.4" y="193.6" width="428.1" height="235.7" fill="none" stroke="#231f20" stroke-width="3.1"/>
<path d="M511.42 193.6v8.15M511.42 429.3v-8.15M618.45 193.6v8.15M618.45 429.3v-8.15M725.48 193.6v8.15M725.48 429.3v-8.15M404.4 311.45h5.7M832.5 311.45h-5.7" fill="none" stroke="#231f20" stroke-width="3.1"/>
<polyline points="404.4,429.3 407.08,429.3 409.75,429.3 412.43,429.3 415.1,429.3 417.78,429.3 420.45,429.3 423.13,429.3 425.8,429.3 428.48,429.3 431.16,429.3 433.83,429.3 436.51,429.3 439.18,429.3 441.86,429.3 444.53,429.3 447.21,429.3 449.89,429.3 452.56,429.3 455.24,429.3 457.91,429.3 460.59,429.3 463.26,429.3 465.94,429.3 468.62,429.3 471.29,429.3 473.97,429.3 476.64,429.3 479.32,429.3 481.99,429.3 484.67,429.3 487.34,429.29 490.02,429.29 492.7,429.28 495.37,429.26 498.05,429.22 500.72,429.16 503.4,429.08 506.07,428.94 508.75,428.75 511.42,428.48 514.1,428.1 516.78,427.58 519.45,426.9 522.13,426.02 524.8,424.91 527.48,423.51 530.15,421.8 532.83,419.74 535.51,417.27 538.18,414.37 540.86,410.98 543.53,407.09 546.21,402.66 548.88,397.66 551.56,392.06 554.24,385.87 556.91,379.07 559.59,371.67 562.26,363.67 564.94,355.11 567.61,346.01 570.29,336.42 572.96,326.41 575.64,316.05 578.32,305.41 580.99,294.61 583.67,283.74 586.34,272.92 589.02,262.28 591.69,251.95 594.37,242.07 597.04,232.77 599.72,224.2 602.4,216.47 605.07,209.71 607.75,204.02 610.42,199.5 613.1,196.22 615.77,194.25 618.45,193.6 621.13,194.3 623.8,196.32 626.48,199.65 629.15,204.21 631.83,209.94 634.5,216.74 637.18,224.5 639.86,233.11 642.53,242.43 645.21,252.33 647.88,262.67 650.56,273.32 653.23,284.14 655.91,295.01 658.58,305.82 661.26,316.44 663.94,326.8 666.61,336.79 669.29,346.36 671.96,355.44 674.64,363.98 677.31,371.95 679.99,379.34 682.66,386.11 685.34,392.28 688.02,397.85 690.69,402.83 693.37,407.25 696.04,411.12 698.72,414.48 701.39,417.37 704.07,419.82 706.75,421.87 709.42,423.57 712.1,424.95 714.77,426.06 717.45,426.93 720.12,427.6 722.8,428.11 725.47,428.49 728.15,428.76 730.83,428.95 733.5,429.08 736.18,429.17 738.85,429.22 741.53,429.26 744.2,429.28 746.88,429.29 749.56,429.29 752.23,429.3 754.91,429.3 757.58,429.3 760.26,429.3 762.93,429.3 765.61,429.3 768.29,429.3 770.96,429.3 773.64,429.3 776.31,429.3 778.99,429.3 781.66,429.3 784.34,429.3 787.01,429.3 789.69,429.3 792.37,429.3 795.04,429.3 797.72,429.3 800.39,429.3 803.07,429.3 805.74,429.3 808.42,429.3 811.1,429.3 813.77,429.3 816.45,429.3 819.12,429.3 821.8,429.3 824.47,429.3 827.15,429.3 829.82,429.3 832.5,429.3" fill="none" stroke="#1a71b4" stroke-width="2.9" stroke-linejoin="round"/>
<text x="617.7" y="168.1" font-size="29.17" text-anchor="middle">Radial profile</text>
<text x="393.1" y="200.6" font-size="29.17" text-anchor="end">1.0</text>
<text x="393.1" y="319" font-size="29.17" text-anchor="end">0.5</text>
<text x="393.1" y="440" font-size="29.17" text-anchor="end">0</text>
<text x="401" y="463.4" font-size="29.17" text-anchor="middle">-2</text>
<text x="510" y="463.4" font-size="29.17" text-anchor="middle">-1</text>
<text x="618.5" y="463.4" font-size="29.17" text-anchor="middle">0</text>
<text x="725" y="463.4" font-size="29.17" text-anchor="middle">1</text>
<text x="835.5" y="463.4" font-size="29.17" text-anchor="middle">2</text>
<text x="617.6" y="503" font-size="29.17" text-anchor="middle">X axis (μm)</text>
<text transform="translate(325 311.6) rotate(-90)" font-size="29.17" text-anchor="middle">Intensity (norm.)</text>
<line x1="597.8" y1="315" x2="638.6" y2="315" stroke="#231f20" stroke-width="3"/>
<path d="M575.4 315L599.8 308.4V321.6ZM661 315L636.6 308.4V321.6Z" fill="#231f20"/>
<text x="685" y="250.8" font-size="29.17" text-anchor="start">FWHM =</text>
<text x="684.3" y="286.8" font-size="29.17" text-anchor="start">~0.78 μm</text>
<text x="1233.3" y="189.3" font-size="29.17" text-anchor="middle">YZ view</text>
<rect x="991.2" y="198.3" width="486" height="231.1" fill="#000"/>
<g shape-rendering="crispEdges"><rect x="1025.04" y="253.8" width="14.87" height="120" fill="url(#z0_3)"/><rect x="1039.91" y="253.8" width="14.87" height="120" fill="url(#z0_4)"/><rect x="1054.78" y="253.8" width="14.87" height="120" fill="url(#z0_5)"/><rect x="1069.65" y="253.8" width="14.87" height="120" fill="url(#z0_6)"/><rect x="1084.52" y="253.8" width="14.87" height="120" fill="url(#z0_7)"/><rect x="1099.39" y="253.8" width="14.87" height="120" fill="url(#z0_8)"/><rect x="1114.26" y="253.8" width="14.87" height="120" fill="url(#z0_9)"/><rect x="1129.13" y="253.8" width="14.87" height="120" fill="url(#z0_10)"/><rect x="1144" y="253.8" width="14.87" height="120" fill="url(#z0_11)"/><rect x="1158.87" y="253.8" width="14.87" height="120" fill="url(#z0_12)"/><rect x="1173.74" y="253.8" width="14.87" height="120" fill="url(#z0_13)"/><rect x="1188.61" y="253.8" width="14.87" height="120" fill="url(#z0_14)"/><rect x="1203.48" y="253.8" width="14.87" height="120" fill="url(#z0_15)"/><rect x="1218.35" y="253.8" width="14.87" height="120" fill="url(#z0_16)"/><rect x="1233.22" y="253.8" width="14.87" height="120" fill="url(#z0_17)"/><rect x="1248.09" y="253.8" width="14.87" height="120" fill="url(#z0_18)"/><rect x="1262.96" y="253.8" width="14.87" height="120" fill="url(#z0_19)"/><rect x="1277.83" y="253.8" width="14.87" height="120" fill="url(#z0_20)"/><rect x="1292.7" y="253.8" width="14.87" height="120" fill="url(#z0_21)"/><rect x="1307.57" y="253.8" width="14.87" height="120" fill="url(#z0_22)"/><rect x="1322.44" y="253.8" width="14.87" height="120" fill="url(#z0_23)"/><rect x="1337.31" y="253.8" width="14.87" height="120" fill="url(#z0_24)"/><rect x="1352.18" y="253.8" width="14.87" height="120" fill="url(#z0_25)"/><rect x="1367.05" y="253.8" width="14.87" height="120" fill="url(#z0_26)"/><rect x="1381.92" y="253.8" width="14.87" height="120" fill="url(#z0_27)"/><rect x="1396.79" y="253.8" width="14.87" height="120" fill="url(#z0_28)"/><rect x="1411.66" y="253.8" width="14.87" height="120" fill="url(#z0_29)"/><rect x="1426.53" y="253.8" width="14.87" height="120" fill="url(#z0_30)"/></g>
<g fill="#070707" filter="url(#hb)" style="mix-blend-mode:lighten"><polygon points="1000.92,228.34 1098.12,221.41 1137,237.59 1195.32,267.63 1195.32,360.07 1137,390.11 1098.12,406.29 1000.92,399.36 1000.92,355.45 1034.94,341.58 1034.94,286.12 1000.92,272.25"/><polygon points="1273.08,267.63 1311.96,249.14 1341.12,214.48 1443.18,214.48 1469.91,230.65 1443.18,253.76 1380,267.63 1409.16,290.74 1409.16,336.96 1380,360.07 1443.18,373.94 1469.91,397.05 1443.18,413.22 1341.12,413.22 1311.96,378.56 1273.08,360.07"/></g>
<rect x="1396.5" y="437.6" width="48.5" height="3.8" fill="#000"/>
<text x="1377" y="474.2" font-size="29.17" text-anchor="start">2 μm</text>
<rect x="1661.6" y="193.6" width="430.4" height="235.6" fill="none" stroke="#231f20" stroke-width="3.1"/>
<path d="M1769.2 193.6v8.15M1769.2 429.2v-8.15M1876.8 193.6v8.15M1876.8 429.2v-8.15M1984.4 193.6v8.15M1984.4 429.2v-8.15M1661.6 311.4h5.7M2092 311.4h-5.7" fill="none" stroke="#231f20" stroke-width="3.1"/>
<polyline points="1661.6,429.02 1672.36,428.79 1683.12,428.32 1693.88,427.43 1704.64,425.85 1715.4,423.21 1726.16,419.03 1736.92,412.8 1747.68,403.95 1758.44,392.04 1769.2,376.76 1779.96,358.1 1790.72,336.4 1801.48,312.38 1812.24,287.15 1823,262.15 1833.76,238.96 1844.52,219.23 1855.28,204.42 1866.04,195.71 1876.8,193.77 1887.56,198.78 1898.32,210.33 1909.08,227.5 1919.84,248.97 1930.6,273.18 1941.36,298.47 1952.12,323.31 1962.88,346.42 1973.64,366.83 1984.4,384 1995.16,397.76 2005.92,408.25 2016.68,415.87 2027.44,421.12 2038.2,424.55 2048.96,426.66 2059.72,427.89 2070.48,428.57 2081.24,428.91 2092,429.08" fill="none" stroke="#1a71b4" stroke-width="2.9" stroke-linejoin="round"/>
<text x="1877.5" y="168.1" font-size="29.17" text-anchor="middle">Axial profile</text>
<text x="1649.6" y="200.3" font-size="29.17" text-anchor="end">1.0</text>
<text x="1649.6" y="318.5" font-size="29.17" text-anchor="end">0.5</text>
<text x="1649.6" y="439.5" font-size="29.17" text-anchor="end">0</text>
<text x="1667.3" y="467.5" font-size="29.17" text-anchor="middle">-10</text>
<text x="1770" y="467.5" font-size="29.17" text-anchor="middle">-5</text>
<text x="1876.8" y="467.5" font-size="29.17" text-anchor="middle">0</text>
<text x="1983" y="467.5" font-size="29.17" text-anchor="middle">5</text>
<text x="2089.5" y="467.5" font-size="29.17" text-anchor="middle">10</text>
<text x="1877.5" y="505.5" font-size="29.17" text-anchor="middle">Z axis (μm)</text>
<text transform="translate(1582 311.6) rotate(-90)" font-size="29.17" text-anchor="middle">Intensity (norm.)</text>
<line x1="1821.1" y1="315" x2="1927.4" y2="315" stroke="#231f20" stroke-width="3"/>
<path d="M1798.7 315L1823.1 308.4V321.6ZM1949.8 315L1925.4 308.4V321.6Z" fill="#231f20"/>
<text x="1956" y="236" font-size="29.17" text-anchor="start">FWHM =</text>
<text x="1955" y="271" font-size="29.17" text-anchor="start">~6.7 μm</text>
<line x1="-0.6" y1="315.1" x2="233.2" y2="315.1" stroke="#27aae1" stroke-width="3.6" stroke-dasharray="24.5 17.18"/>
<line x1="989.6" y1="314" x2="1477.4" y2="314" stroke="#27aae1" stroke-width="3.6" stroke-dasharray="24 17.7"/>
<text x="1.1" y="578.7" font-size="29.17" text-anchor="start">Scan angle = 1°</text>
<text x="117" y="640.5" font-size="29.17" text-anchor="middle">XY view</text>
<rect x="2.6" y="648" width="229.4" height="229.1" fill="#000"/>
<circle cx="117.2" cy="761.6" r="60" fill="url(#xy1)"/>
<rect x="146.4" y="887.7" width="48.6" height="3.6" fill="#000"/>
<text x="131" y="921.8" font-size="29.17" text-anchor="start">1 μm</text>
<rect x="404.4" y="647.9" width="428.1" height="236.7" fill="none" stroke="#231f20" stroke-width="3.1"/>
<path d="M511.42 647.9v8.15M511.42 884.6v-8.15M618.45 647.9v8.15M618.45 884.6v-8.15M725.48 647.9v8.15M725.48 884.6v-8.15M404.4 766.25h5.7M832.5 766.25h-5.7" fill="none" stroke="#231f20" stroke-width="3.1"/>
<polyline points="404.4,884.6 407.08,884.6 409.75,884.6 412.43,884.6 415.1,884.6 417.78,884.6 420.45,884.6 423.13,884.6 425.8,884.6 428.48,884.6 431.16,884.6 433.83,884.6 436.51,884.6 439.18,884.6 441.86,884.6 444.53,884.6 447.21,884.6 449.89,884.6 452.56,884.6 455.24,884.6 457.91,884.6 460.59,884.6 463.26,884.6 465.94,884.6 468.62,884.6 471.29,884.6 473.97,884.6 476.64,884.6 479.32,884.6 481.99,884.6 484.67,884.6 487.34,884.59 490.02,884.59 492.7,884.58 495.37,884.56 498.05,884.52 500.72,884.46 503.4,884.38 506.07,884.24 508.75,884.05 511.42,883.77 514.1,883.39 516.78,882.87 519.45,882.19 522.13,881.31 524.8,880.19 527.48,878.79 530.15,877.07 532.83,875 535.51,872.52 538.18,869.6 540.86,866.21 543.53,862.3 546.21,857.84 548.88,852.82 551.56,847.21 554.24,840.99 556.91,834.16 559.59,826.72 562.26,818.69 564.94,810.09 567.61,800.96 570.29,791.33 572.96,781.28 575.64,770.87 578.32,760.19 580.99,749.34 583.67,738.42 586.34,727.55 589.02,716.87 591.69,706.5 594.37,696.57 597.04,687.24 599.72,678.63 602.4,670.86 605.07,664.07 607.75,658.36 610.42,653.83 613.1,650.54 615.77,648.55 618.45,647.9 621.13,648.6 623.8,650.64 626.48,653.97 629.15,658.56 631.83,664.31 634.5,671.14 637.18,678.93 639.86,687.58 642.53,696.94 645.21,706.88 647.88,717.26 650.56,727.96 653.23,738.83 655.91,749.74 658.58,760.59 661.26,771.26 663.94,781.66 666.61,791.7 669.29,801.31 671.96,810.42 674.64,819 677.31,827.01 679.99,834.42 682.66,841.23 685.34,847.43 688.02,853.02 690.69,858.02 693.37,862.45 696.04,866.34 698.72,869.72 701.39,872.62 704.07,875.08 706.75,877.14 709.42,878.85 712.1,880.23 714.77,881.35 717.45,882.22 720.12,882.9 722.8,883.41 725.47,883.78 728.15,884.06 730.83,884.25 733.5,884.38 736.18,884.47 738.85,884.52 741.53,884.56 744.2,884.58 746.88,884.59 749.56,884.59 752.23,884.6 754.91,884.6 757.58,884.6 760.26,884.6 762.93,884.6 765.61,884.6 768.29,884.6 770.96,884.6 773.64,884.6 776.31,884.6 778.99,884.6 781.66,884.6 784.34,884.6 787.01,884.6 789.69,884.6 792.37,884.6 795.04,884.6 797.72,884.6 800.39,884.6 803.07,884.6 805.74,884.6 808.42,884.6 811.1,884.6 813.77,884.6 816.45,884.6 819.12,884.6 821.8,884.6 824.47,884.6 827.15,884.6 829.82,884.6 832.5,884.6" fill="none" stroke="#1a71b4" stroke-width="2.9" stroke-linejoin="round"/>
<text x="617.7" y="624.6" font-size="29.17" text-anchor="middle">Radial profile</text>
<text x="393.1" y="656.9" font-size="29.17" text-anchor="end">1.0</text>
<text x="393.1" y="771" font-size="29.17" text-anchor="end">0.5</text>
<text x="393.1" y="900" font-size="29.17" text-anchor="end">0</text>
<text x="397.8" y="923.8" font-size="29.17" text-anchor="middle">-2</text>
<text x="507" y="923.8" font-size="29.17" text-anchor="middle">-1</text>
<text x="614" y="923.8" font-size="29.17" text-anchor="middle">0</text>
<text x="722.1" y="923.8" font-size="29.17" text-anchor="middle">1</text>
<text x="831.9" y="923.8" font-size="29.17" text-anchor="middle">2</text>
<text x="617.4" y="961.6" font-size="29.17" text-anchor="middle">X axis (μm)</text>
<text transform="translate(325 768) rotate(-90)" font-size="29.17" text-anchor="middle">Intensity (norm.)</text>
<text x="1234.4" y="645.8" font-size="29.17" text-anchor="middle">YZ view</text>
<rect x="1000.6" y="656.1" width="485.3" height="231.6" fill="#000"/>
<g shape-rendering="crispEdges"><rect x="1034.44" y="711.6" width="14.87" height="120" fill="url(#z1_3)"/><rect x="1049.31" y="711.6" width="14.87" height="120" fill="url(#z1_4)"/><rect x="1064.18" y="711.6" width="14.87" height="120" fill="url(#z1_5)"/><rect x="1079.05" y="711.6" width="14.87" height="120" fill="url(#z1_6)"/><rect x="1093.92" y="711.6" width="14.87" height="120" fill="url(#z1_7)"/><rect x="1108.79" y="711.6" width="14.87" height="120" fill="url(#z1_8)"/><rect x="1123.66" y="711.6" width="14.87" height="120" fill="url(#z1_9)"/><rect x="1138.53" y="711.6" width="14.87" height="120" fill="url(#z1_10)"/><rect x="1153.4" y="711.6" width="14.87" height="120" fill="url(#z1_11)"/><rect x="1168.27" y="711.6" width="14.87" height="120" fill="url(#z1_12)"/><rect x="1183.14" y="711.6" width="14.87" height="120" fill="url(#z1_13)"/><rect x="1198.01" y="711.6" width="14.87" height="120" fill="url(#z1_14)"/><rect x="1212.88" y="711.6" width="14.87" height="120" fill="url(#z1_15)"/><rect x="1227.75" y="711.6" width="14.87" height="120" fill="url(#z1_16)"/><rect x="1242.62" y="711.6" width="14.87" height="120" fill="url(#z1_17)"/><rect x="1257.49" y="711.6" width="14.87" height="120" fill="url(#z1_18)"/><rect x="1272.36" y="711.6" width="14.87" height="120" fill="url(#z1_19)"/><rect x="1287.23" y="711.6" width="14.87" height="120" fill="url(#z1_20)"/><rect x="1302.1" y="711.6" width="14.87" height="120" fill="url(#z1_21)"/><rect x="1316.97" y="711.6" width="14.87" height="120" fill="url(#z1_22)"/><rect x="1331.84" y="711.6" width="14.87" height="120" fill="url(#z1_23)"/><rect x="1346.71" y="711.6" width="14.87" height="120" fill="url(#z1_24)"/><rect x="1361.58" y="711.6" width="14.87" height="120" fill="url(#z1_25)"/><rect x="1376.45" y="711.6" width="14.87" height="120" fill="url(#z1_26)"/><rect x="1391.32" y="711.6" width="14.87" height="120" fill="url(#z1_27)"/><rect x="1406.19" y="711.6" width="14.87" height="120" fill="url(#z1_28)"/><rect x="1421.06" y="711.6" width="14.87" height="120" fill="url(#z1_29)"/><rect x="1435.93" y="711.6" width="14.87" height="120" fill="url(#z1_30)"/></g>
<g fill="#070707" filter="url(#hb)" style="mix-blend-mode:lighten"><polygon points="1010.31,686.21 1107.37,679.26 1146.19,695.47 1204.43,725.58 1204.43,818.22 1146.19,848.33 1107.37,864.54 1010.31,857.59 1010.31,813.59 1044.28,799.69 1044.28,744.11 1010.31,730.21"/><polygon points="1282.07,725.58 1320.9,707.05 1350.02,672.31 1451.93,672.31 1478.62,688.52 1451.93,711.68 1388.84,725.58 1417.96,748.74 1417.96,795.06 1388.84,818.22 1451.93,832.12 1478.62,855.28 1451.93,871.49 1350.02,871.49 1320.9,836.75 1282.07,818.22"/></g>
<rect x="1396.5" y="897" width="48.5" height="3.8" fill="#000"/>
<text x="1377" y="933.2" font-size="29.17" text-anchor="start">2 μm</text>
<rect x="1661.6" y="647.6" width="430.4" height="237" fill="none" stroke="#231f20" stroke-width="3.1"/>
<path d="M1769.2 647.6v8.15M1769.2 884.6v-8.15M1876.8 647.6v8.15M1876.8 884.6v-8.15M1984.4 647.6v8.15M1984.4 884.6v-8.15M1661.6 766.1h5.7M2092 766.1h-5.7" fill="none" stroke="#231f20" stroke-width="3.1"/>
<polyline points="1661.6,884.43 1672.36,884.22 1683.12,883.78 1693.88,882.94 1704.64,881.44 1715.4,878.91 1726.16,874.89 1736.92,868.85 1747.68,860.25 1758.44,848.59 1769.2,833.58 1779.96,815.14 1790.72,793.6 1801.48,769.63 1812.24,744.32 1823,719.07 1833.76,695.48 1844.52,675.2 1855.28,659.74 1866.04,650.31 1876.8,647.65 1887.56,651.99 1898.32,662.97 1909.08,679.71 1919.84,700.94 1930.6,725.08 1941.36,750.49 1952.12,775.59 1962.88,799.06 1973.64,819.9 1984.4,837.52 1995.16,851.71 2005.92,862.59 2016.68,870.53 2027.44,876.02 2038.2,879.63 2048.96,881.88 2059.72,883.19 2070.48,883.91 2081.24,884.29 2092,884.47" fill="none" stroke="#1a71b4" stroke-width="2.9" stroke-linejoin="round"/>
<text x="1877.8" y="624.3" font-size="29.17" text-anchor="middle">Axial profile</text>
<text x="1649.6" y="654.8" font-size="29.17" text-anchor="end">1.0</text>
<text x="1649.6" y="771.6" font-size="29.17" text-anchor="end">0.5</text>
<text x="1649.6" y="893.2" font-size="29.17" text-anchor="end">0</text>
<text x="1663.9" y="919.5" font-size="29.17" text-anchor="middle">-10</text>
<text x="1766.8" y="919.5" font-size="29.17" text-anchor="middle">-5</text>
<text x="1873.1" y="919.5" font-size="29.17" text-anchor="middle">0</text>
<text x="1980.3" y="919.5" font-size="29.17" text-anchor="middle">5</text>
<text x="2088.8" y="919.5" font-size="29.17" text-anchor="middle">10</text>
<text x="1877.8" y="957.8" font-size="29.17" text-anchor="middle">Z axis (μm)</text>
<text transform="translate(1582 760.7) rotate(-90)" font-size="29.17" text-anchor="middle">Intensity (norm.)</text>
<text x="1.1" y="1026.6" font-size="29.17" text-anchor="start">Scan angle = 2°</text>
<text x="117" y="1082.5" font-size="29.17" text-anchor="middle">XY view</text>
<rect x="2.6" y="1095.6" width="229.4" height="229" fill="#000"/>
<circle cx="116.8" cy="1205.2" r="60" fill="url(#xy2)"/>
<rect x="146.4" y="1335.6" width="48.6" height="3.6" fill="#000"/>
<text x="131" y="1369.4" font-size="29.17" text-anchor="start">1 μm</text>
<rect x="404.4" y="1095.9" width="428.1" height="235.8" fill="none" stroke="#231f20" stroke-width="3.1"/>
<path d="M511.42 1095.9v8.15M511.42 1331.7v-8.15M618.45 1095.9v8.15M618.45 1331.7v-8.15M725.48 1095.9v8.15M725.48 1331.7v-8.15M404.4 1213.8h5.7M832.5 1213.8h-5.7" fill="none" stroke="#231f20" stroke-width="3.1"/>
<polyline points="404.4,1331.7 407.08,1331.7 409.75,1331.7 412.43,1331.7 415.1,1331.7 417.78,1331.7 420.45,1331.7 423.13,1331.7 425.8,1331.7 428.48,1331.7 431.16,1331.7 433.83,1331.7 436.51,1331.7 439.18,1331.7 441.86,1331.7 444.53,1331.7 447.21,1331.7 449.89,1331.7 452.56,1331.7 455.24,1331.7 457.91,1331.7 460.59,1331.7 463.26,1331.7 465.94,1331.7 468.62,1331.7 471.29,1331.7 473.97,1331.7 476.64,1331.7 479.32,1331.7 481.99,1331.7 484.67,1331.7 487.34,1331.69 490.02,1331.69 492.7,1331.68 495.37,1331.66 498.05,1331.62 500.72,1331.56 503.4,1331.48 506.07,1331.34 508.75,1331.15 511.42,1330.88 514.1,1330.49 516.78,1329.98 519.45,1329.3 522.13,1328.42 524.8,1327.3 527.48,1325.91 530.15,1324.2 532.83,1322.13 535.51,1319.67 538.18,1316.76 540.86,1313.38 543.53,1309.48 546.21,1305.05 548.88,1300.04 551.56,1294.45 554.24,1288.25 556.91,1281.45 559.59,1274.04 562.26,1266.04 564.94,1257.47 567.61,1248.37 570.29,1238.79 572.96,1228.77 575.64,1218.4 578.32,1207.76 580.99,1196.95 583.67,1186.07 586.34,1175.25 589.02,1164.61 591.69,1154.27 594.37,1144.39 597.04,1135.09 599.72,1126.51 602.4,1118.78 605.07,1112.01 607.75,1106.32 610.42,1101.8 613.1,1098.53 615.77,1096.55 618.45,1095.9 621.13,1096.6 623.8,1098.62 626.48,1101.95 629.15,1106.52 631.83,1112.25 634.5,1119.05 637.18,1126.82 639.86,1135.43 642.53,1144.75 645.21,1154.65 647.88,1165 650.56,1175.65 653.23,1186.48 655.91,1197.36 658.58,1208.16 661.26,1218.79 663.94,1229.15 666.61,1239.15 669.29,1248.72 671.96,1257.8 674.64,1266.35 677.31,1274.33 679.99,1281.72 682.66,1288.5 685.34,1294.67 688.02,1300.24 690.69,1305.22 693.37,1309.64 696.04,1313.51 698.72,1316.88 701.39,1319.77 704.07,1322.22 706.75,1324.27 709.42,1325.97 712.1,1327.35 714.77,1328.46 717.45,1329.33 720.12,1330 722.8,1330.51 725.47,1330.89 728.15,1331.16 730.83,1331.35 733.5,1331.48 736.18,1331.57 738.85,1331.62 741.53,1331.66 744.2,1331.68 746.88,1331.69 749.56,1331.69 752.23,1331.7 754.91,1331.7 757.58,1331.7 760.26,1331.7 762.93,1331.7 765.61,1331.7 768.29,1331.7 770.96,1331.7 773.64,1331.7 776.31,1331.7 778.99,1331.7 781.66,1331.7 784.34,1331.7 787.01,1331.7 789.69,1331.7 792.37,1331.7 795.04,1331.7 797.72,1331.7 800.39,1331.7 803.07,1331.7 805.74,1331.7 808.42,1331.7 811.1,1331.7 813.77,1331.7 816.45,1331.7 819.12,1331.7 821.8,1331.7 824.47,1331.7 827.15,1331.7 829.82,1331.7 832.5,1331.7" fill="none" stroke="#1a71b4" stroke-width="2.9" stroke-linejoin="round"/>
<text x="617.7" y="1074.6" font-size="29.17" text-anchor="middle">Radial profile</text>
<text x="393.1" y="1103.2" font-size="29.17" text-anchor="end">1.0</text>
<text x="393.1" y="1219.8" font-size="29.17" text-anchor="end">0.5</text>
<text x="393.1" y="1342.4" font-size="29.17" text-anchor="end">0</text>
<text x="399.3" y="1375.7" font-size="29.17" text-anchor="middle">-2</text>
<text x="508.4" y="1375.7" font-size="29.17" text-anchor="middle">-1</text>
<text x="616.3" y="1375.7" font-size="29.17" text-anchor="middle">0</text>
<text x="723.2" y="1375.7" font-size="29.17" text-anchor="middle">1</text>
<text x="833.9" y="1375.7" font-size="29.17" text-anchor="middle">2</text>
<text x="617.4" y="1412.3" font-size="29.17" text-anchor="middle">X axis (μm)</text>
<text transform="translate(325 1217.9) rotate(-90)" font-size="29.17" text-anchor="middle">Intensity (norm.)</text>
<text x="1234.4" y="1079.6" font-size="29.17" text-anchor="middle">YZ view</text>
<rect x="998.2" y="1087.9" width="485.7" height="231.9" fill="#000"/>
<g shape-rendering="crispEdges"><rect x="1032.04" y="1143.7" width="14.87" height="120" fill="url(#z2_3)"/><rect x="1046.91" y="1143.7" width="14.87" height="120" fill="url(#z2_4)"/><rect x="1061.78" y="1143.7" width="14.87" height="120" fill="url(#z2_5)"/><rect x="1076.65" y="1143.7" width="14.87" height="120" fill="url(#z2_6)"/><rect x="1091.52" y="1143.7" width="14.87" height="120" fill="url(#z2_7)"/><rect x="1106.39" y="1143.7" width="14.87" height="120" fill="url(#z2_8)"/><rect x="1121.26" y="1143.7" width="14.87" height="120" fill="url(#z2_9)"/><rect x="1136.13" y="1143.7" width="14.87" height="120" fill="url(#z2_10)"/><rect x="1151" y="1143.7" width="14.87" height="120" fill="url(#z2_11)"/><rect x="1165.87" y="1143.7" width="14.87" height="120" fill="url(#z2_12)"/><rect x="1180.74" y="1143.7" width="14.87" height="120" fill="url(#z2_13)"/><rect x="1195.61" y="1143.7" width="14.87" height="120" fill="url(#z2_14)"/><rect x="1210.48" y="1143.7" width="14.87" height="120" fill="url(#z2_15)"/><rect x="1225.35" y="1143.7" width="14.87" height="120" fill="url(#z2_16)"/><rect x="1240.22" y="1143.7" width="14.87" height="120" fill="url(#z2_17)"/><rect x="1255.09" y="1143.7" width="14.87" height="120" fill="url(#z2_18)"/><rect x="1269.96" y="1143.7" width="14.87" height="120" fill="url(#z2_19)"/><rect x="1284.83" y="1143.7" width="14.87" height="120" fill="url(#z2_20)"/><rect x="1299.7" y="1143.7" width="14.87" height="120" fill="url(#z2_21)"/><rect x="1314.57" y="1143.7" width="14.87" height="120" fill="url(#z2_22)"/><rect x="1329.44" y="1143.7" width="14.87" height="120" fill="url(#z2_23)"/><rect x="1344.31" y="1143.7" width="14.87" height="120" fill="url(#z2_24)"/><rect x="1359.18" y="1143.7" width="14.87" height="120" fill="url(#z2_25)"/><rect x="1374.05" y="1143.7" width="14.87" height="120" fill="url(#z2_26)"/><rect x="1388.92" y="1143.7" width="14.87" height="120" fill="url(#z2_27)"/><rect x="1403.79" y="1143.7" width="14.87" height="120" fill="url(#z2_28)"/><rect x="1418.66" y="1143.7" width="14.87" height="120" fill="url(#z2_29)"/><rect x="1433.53" y="1143.7" width="14.87" height="120" fill="url(#z2_30)"/></g>
<g fill="#070707" filter="url(#hb)" style="mix-blend-mode:lighten"><polygon points="1007.91,1118.05 1105.05,1111.09 1143.91,1127.32 1202.19,1157.47 1202.19,1250.23 1143.91,1280.38 1105.05,1296.61 1007.91,1289.65 1007.91,1245.59 1041.91,1231.68 1041.91,1176.02 1007.91,1162.11"/><polygon points="1279.91,1157.47 1318.76,1138.92 1347.9,1104.13 1449.9,1104.13 1476.61,1120.37 1449.9,1143.56 1386.76,1157.47 1415.9,1180.66 1415.9,1227.04 1386.76,1250.23 1449.9,1264.14 1476.61,1287.33 1449.9,1303.57 1347.9,1303.57 1318.76,1268.78 1279.91,1250.23"/></g>
<rect x="1396.5" y="1329.5" width="48.5" height="3.8" fill="#000"/>
<text x="1377" y="1365.3" font-size="29.17" text-anchor="start">2 μm</text>
<rect x="1661.6" y="1095.9" width="430.4" height="235.5" fill="none" stroke="#231f20" stroke-width="3.1"/>
<path d="M1769.2 1095.9v8.15M1769.2 1331.4v-8.15M1876.8 1095.9v8.15M1876.8 1331.4v-8.15M1984.4 1095.9v8.15M1984.4 1331.4v-8.15M1661.6 1213.65h5.7M2092 1213.65h-5.7" fill="none" stroke="#231f20" stroke-width="3.1"/>
<polyline points="1661.6,1331.24 1672.36,1331.02 1683.12,1330.58 1693.88,1329.75 1704.64,1328.26 1715.4,1325.74 1726.16,1321.75 1736.92,1315.75 1747.68,1307.2 1758.44,1295.62 1769.2,1280.7 1779.96,1262.38 1790.72,1240.97 1801.48,1217.16 1812.24,1192.01 1823,1166.92 1833.76,1143.48 1844.52,1123.33 1855.28,1107.97 1866.04,1098.59 1876.8,1095.95 1887.56,1100.26 1898.32,1111.17 1909.08,1127.81 1919.84,1148.9 1930.6,1172.89 1941.36,1198.14 1952.12,1223.08 1962.88,1246.4 1973.64,1267.11 1984.4,1284.62 1995.16,1298.72 2005.92,1309.53 2016.68,1317.41 2027.44,1322.88 2038.2,1326.47 2048.96,1328.69 2059.72,1330 2070.48,1330.72 2081.24,1331.09 2092,1331.27" fill="none" stroke="#1a71b4" stroke-width="2.9" stroke-linejoin="round"/>
<text x="1877.8" y="1074.3" font-size="29.17" text-anchor="middle">Axial profile</text>
<text x="1649.6" y="1102.5" font-size="29.17" text-anchor="end">1.0</text>
<text x="1649.6" y="1219.7" font-size="29.17" text-anchor="end">0.5</text>
<text x="1649.6" y="1340.7" font-size="29.17" text-anchor="end">0</text>
<text x="1665.2" y="1371.3" font-size="29.17" text-anchor="middle">-10</text>
<text x="1768.2" y="1371.3" font-size="29.17" text-anchor="middle">-5</text>
<text x="1875" y="1371.3" font-size="29.17" text-anchor="middle">0</text>
<text x="1980.8" y="1371.3" font-size="29.17" text-anchor="middle">5</text>
<text x="2088.8" y="1371.3" font-size="29.17" text-anchor="middle">10</text>
<text x="1877.8" y="1409.3" font-size="29.17" text-anchor="middle">Z axis (μm)</text>
<text transform="translate(1582 1216.9) rotate(-90)" font-size="29.17" text-anchor="middle">Intensity (norm.)</text>
<text x="1.1" y="1474.1" font-size="29.17" text-anchor="start">Scan angle = 3°</text>
<text x="117" y="1528.8" font-size="29.17" text-anchor="middle">XY view</text>
<rect x="2.6" y="1542.8" width="229.4" height="228.9" fill="#000"/>
<circle cx="117.2" cy="1653.3" r="60" fill="url(#xy3)"/>
<rect x="145" y="1782.7" width="51.3" height="3.3" fill="#000"/>
<text x="130.6" y="1816.8" font-size="29.17" text-anchor="start">1 μm</text>
<rect x="404.4" y="1535.3" width="428.1" height="236.6" fill="none" stroke="#231f20" stroke-width="3.1"/>
<path d="M511.42 1535.3v8.15M511.42 1771.9v-8.15M618.45 1535.3v8.15M618.45 1771.9v-8.15M725.48 1535.3v8.15M725.48 1771.9v-8.15M404.4 1653.6h5.7M832.5 1653.6h-5.7" fill="none" stroke="#231f20" stroke-width="3.1"/>
<polyline points="404.4,1771.9 407.08,1771.9 409.75,1771.9 412.43,1771.9 415.1,1771.9 417.78,1771.9 420.45,1771.9 423.13,1771.9 425.8,1771.9 428.48,1771.9 431.16,1771.9 433.83,1771.9 436.51,1771.9 439.18,1771.9 441.86,1771.9 444.53,1771.9 447.21,1771.9 449.89,1771.9 452.56,1771.9 455.24,1771.9 457.91,1771.9 460.59,1771.9 463.26,1771.9 465.94,1771.9 468.62,1771.9 471.29,1771.9 473.97,1771.9 476.64,1771.9 479.32,1771.9 481.99,1771.9 484.67,1771.9 487.34,1771.89 490.02,1771.89 492.7,1771.88 495.37,1771.86 498.05,1771.82 500.72,1771.76 503.4,1771.68 506.07,1771.54 508.75,1771.35 511.42,1771.07 514.1,1770.69 516.78,1770.17 519.45,1769.49 522.13,1768.61 524.8,1767.49 527.48,1766.09 530.15,1764.38 532.83,1762.3 535.51,1759.82 538.18,1756.91 540.86,1753.51 543.53,1749.61 546.21,1745.16 548.88,1740.13 551.56,1734.52 554.24,1728.31 556.91,1721.48 559.59,1714.05 562.26,1706.02 564.94,1697.42 567.61,1688.29 570.29,1678.67 572.96,1668.62 575.64,1658.22 578.32,1647.54 580.99,1636.69 583.67,1625.78 586.34,1614.92 589.02,1604.24 591.69,1593.87 594.37,1583.95 597.04,1574.62 599.72,1566.01 602.4,1558.26 605.07,1551.47 607.75,1545.76 610.42,1541.22 613.1,1537.93 615.77,1535.95 618.45,1535.3 621.13,1536 623.8,1538.03 626.48,1541.37 629.15,1545.95 631.83,1551.7 634.5,1558.53 637.18,1566.32 639.86,1574.96 642.53,1584.32 645.21,1594.25 647.88,1604.63 650.56,1615.32 653.23,1626.19 655.91,1637.1 658.58,1647.94 661.26,1658.61 663.94,1669 666.61,1679.04 669.29,1688.64 671.96,1697.75 674.64,1706.33 677.31,1714.34 679.99,1721.75 682.66,1728.55 685.34,1734.74 688.02,1740.33 690.69,1745.33 693.37,1749.76 696.04,1753.65 698.72,1757.03 701.39,1759.93 704.07,1762.39 706.75,1764.45 709.42,1766.15 712.1,1767.54 714.77,1768.65 717.45,1769.52 720.12,1770.2 722.8,1770.71 725.47,1771.09 728.15,1771.36 730.83,1771.55 733.5,1771.68 736.18,1771.77 738.85,1771.82 741.53,1771.86 744.2,1771.88 746.88,1771.89 749.56,1771.89 752.23,1771.9 754.91,1771.9 757.58,1771.9 760.26,1771.9 762.93,1771.9 765.61,1771.9 768.29,1771.9 770.96,1771.9 773.64,1771.9 776.31,1771.9 778.99,1771.9 781.66,1771.9 784.34,1771.9 787.01,1771.9 789.69,1771.9 792.37,1771.9 795.04,1771.9 797.72,1771.9 800.39,1771.9 803.07,1771.9 805.74,1771.9 808.42,1771.9 811.1,1771.9 813.77,1771.9 816.45,1771.9 819.12,1771.9 821.8,1771.9 824.47,1771.9 827.15,1771.9 829.82,1771.9 832.5,1771.9" fill="none" stroke="#1a71b4" stroke-width="2.9" stroke-linejoin="round"/>
<text x="617.7" y="1521.8" font-size="29.17" text-anchor="middle">Radial profile</text>
<text x="393.1" y="1543.3" font-size="29.17" text-anchor="end">1.0</text>
<text x="393.1" y="1661.6" font-size="29.17" text-anchor="end">0.5</text>
<text x="393.1" y="1783.6" font-size="29.17" text-anchor="end">0</text>
<text x="396.3" y="1812.8" font-size="29.17" text-anchor="middle">-2</text>
<text x="505.6" y="1812.8" font-size="29.17" text-anchor="middle">-1</text>
<text x="612.6" y="1812.8" font-size="29.17" text-anchor="middle">0</text>
<text x="720.4" y="1812.8" font-size="29.17" text-anchor="middle">1</text>
<text x="830.5" y="1812.8" font-size="29.17" text-anchor="middle">2</text>
<text x="617.4" y="1853.2" font-size="29.17" text-anchor="middle">X axis (μm)</text>
<text transform="translate(325 1658.5) rotate(-90)" font-size="29.17" text-anchor="middle">Intensity (norm.)</text>
<text x="1234.4" y="1526.6" font-size="29.17" text-anchor="middle">YZ view</text>
<rect x="991.5" y="1534.8" width="485.7" height="232.1" fill="#000"/>
<g shape-rendering="crispEdges"><rect x="1025.34" y="1591.8" width="14.87" height="120" fill="url(#z3_3)"/><rect x="1040.21" y="1591.8" width="14.87" height="120" fill="url(#z3_4)"/><rect x="1055.08" y="1591.8" width="14.87" height="120" fill="url(#z3_5)"/><rect x="1069.95" y="1591.8" width="14.87" height="120" fill="url(#z3_6)"/><rect x="1084.82" y="1591.8" width="14.87" height="120" fill="url(#z3_7)"/><rect x="1099.69" y="1591.8" width="14.87" height="120" fill="url(#z3_8)"/><rect x="1114.56" y="1591.8" width="14.87" height="120" fill="url(#z3_9)"/><rect x="1129.43" y="1591.8" width="14.87" height="120" fill="url(#z3_10)"/><rect x="1144.3" y="1591.8" width="14.87" height="120" fill="url(#z3_11)"/><rect x="1159.17" y="1591.8" width="14.87" height="120" fill="url(#z3_12)"/><rect x="1174.04" y="1591.8" width="14.87" height="120" fill="url(#z3_13)"/><rect x="1188.91" y="1591.8" width="14.87" height="120" fill="url(#z3_14)"/><rect x="1203.78" y="1591.8" width="14.87" height="120" fill="url(#z3_15)"/><rect x="1218.65" y="1591.8" width="14.87" height="120" fill="url(#z3_16)"/><rect x="1233.52" y="1591.8" width="14.87" height="120" fill="url(#z3_17)"/><rect x="1248.39" y="1591.8" width="14.87" height="120" fill="url(#z3_18)"/><rect x="1263.26" y="1591.8" width="14.87" height="120" fill="url(#z3_19)"/><rect x="1278.13" y="1591.8" width="14.87" height="120" fill="url(#z3_20)"/><rect x="1293" y="1591.8" width="14.87" height="120" fill="url(#z3_21)"/><rect x="1307.87" y="1591.8" width="14.87" height="120" fill="url(#z3_22)"/><rect x="1322.74" y="1591.8" width="14.87" height="120" fill="url(#z3_23)"/><rect x="1337.61" y="1591.8" width="14.87" height="120" fill="url(#z3_24)"/><rect x="1352.48" y="1591.8" width="14.87" height="120" fill="url(#z3_25)"/><rect x="1367.35" y="1591.8" width="14.87" height="120" fill="url(#z3_26)"/><rect x="1382.22" y="1591.8" width="14.87" height="120" fill="url(#z3_27)"/><rect x="1397.09" y="1591.8" width="14.87" height="120" fill="url(#z3_28)"/><rect x="1411.96" y="1591.8" width="14.87" height="120" fill="url(#z3_29)"/><rect x="1426.83" y="1591.8" width="14.87" height="120" fill="url(#z3_30)"/></g>
<g fill="#070707" filter="url(#hb)" style="mix-blend-mode:lighten"><polygon points="1001.21,1564.97 1098.35,1558.01 1137.21,1574.26 1195.49,1604.43 1195.49,1697.27 1137.21,1727.44 1098.35,1743.69 1001.21,1736.73 1001.21,1692.63 1035.21,1678.7 1035.21,1623 1001.21,1609.07"/><polygon points="1273.21,1604.43 1312.06,1585.86 1341.2,1551.05 1443.2,1551.05 1469.91,1567.29 1443.2,1590.5 1380.06,1604.43 1409.2,1627.64 1409.2,1674.06 1380.06,1697.27 1443.2,1711.2 1469.91,1734.41 1443.2,1750.65 1341.2,1750.65 1312.06,1715.84 1273.21,1697.27"/></g>
<rect x="1396.6" y="1777.4" width="48.4" height="3.6" fill="#000"/>
<text x="1377" y="1814" font-size="29.17" text-anchor="start">2 μm</text>
<rect x="1661.6" y="1542.7" width="430.4" height="236.7" fill="none" stroke="#231f20" stroke-width="3.1"/>
<path d="M1769.2 1542.7v8.15M1769.2 1779.4v-8.15M1876.8 1542.7v8.15M1876.8 1779.4v-8.15M1984.4 1542.7v8.15M1984.4 1779.4v-8.15M1661.6 1661.05h5.7M2092 1661.05h-5.7" fill="none" stroke="#231f20" stroke-width="3.1"/>
<polyline points="1661.6,1779.26 1672.36,1779.07 1683.12,1778.68 1693.88,1777.92 1704.64,1776.55 1715.4,1774.23 1726.16,1770.5 1736.92,1764.84 1747.68,1756.72 1758.44,1745.61 1769.2,1731.19 1779.96,1713.34 1790.72,1692.31 1801.48,1668.71 1812.24,1643.56 1823,1618.23 1833.76,1594.28 1844.52,1573.36 1855.28,1557.02 1866.04,1546.52 1876.8,1542.71 1887.56,1545.88 1898.32,1555.78 1909.08,1571.62 1919.84,1592.18 1930.6,1615.92 1941.36,1641.19 1952.12,1666.42 1962.88,1690.21 1973.64,1711.51 1984.4,1729.67 1995.16,1744.42 2005.92,1755.82 2016.68,1764.2 2027.44,1770.06 2038.2,1773.95 2048.96,1776.38 2059.72,1777.82 2070.48,1778.62 2081.24,1779.04 2092,1779.25" fill="none" stroke="#1a71b4" stroke-width="2.9" stroke-linejoin="round"/>
<text x="1877.8" y="1520.5" font-size="29.17" text-anchor="middle">Axial profile</text>
<text x="1649.6" y="1548.8" font-size="29.17" text-anchor="end">1.0</text>
<text x="1649.6" y="1666.4" font-size="29.17" text-anchor="end">0.5</text>
<text x="1649.6" y="1792.4" font-size="29.17" text-anchor="end">0</text>
<text x="1662.5" y="1824.7" font-size="29.17" text-anchor="middle">-10</text>
<text x="1764.9" y="1824.7" font-size="29.17" text-anchor="middle">-5</text>
<text x="1871.5" y="1824.7" font-size="29.17" text-anchor="middle">0</text>
<text x="1978.3" y="1824.7" font-size="29.17" text-anchor="middle">5</text>
<text x="2088.8" y="1824.7" font-size="29.17" text-anchor="middle">10</text>
<text x="1877.8" y="1854.3" font-size="29.17" text-anchor="middle">Z axis (μm)</text>
<text transform="translate(1582 1667.8) rotate(-90)" font-size="29.17" text-anchor="middle">Intensity (norm.)</text>
</svg>
</body></html>
